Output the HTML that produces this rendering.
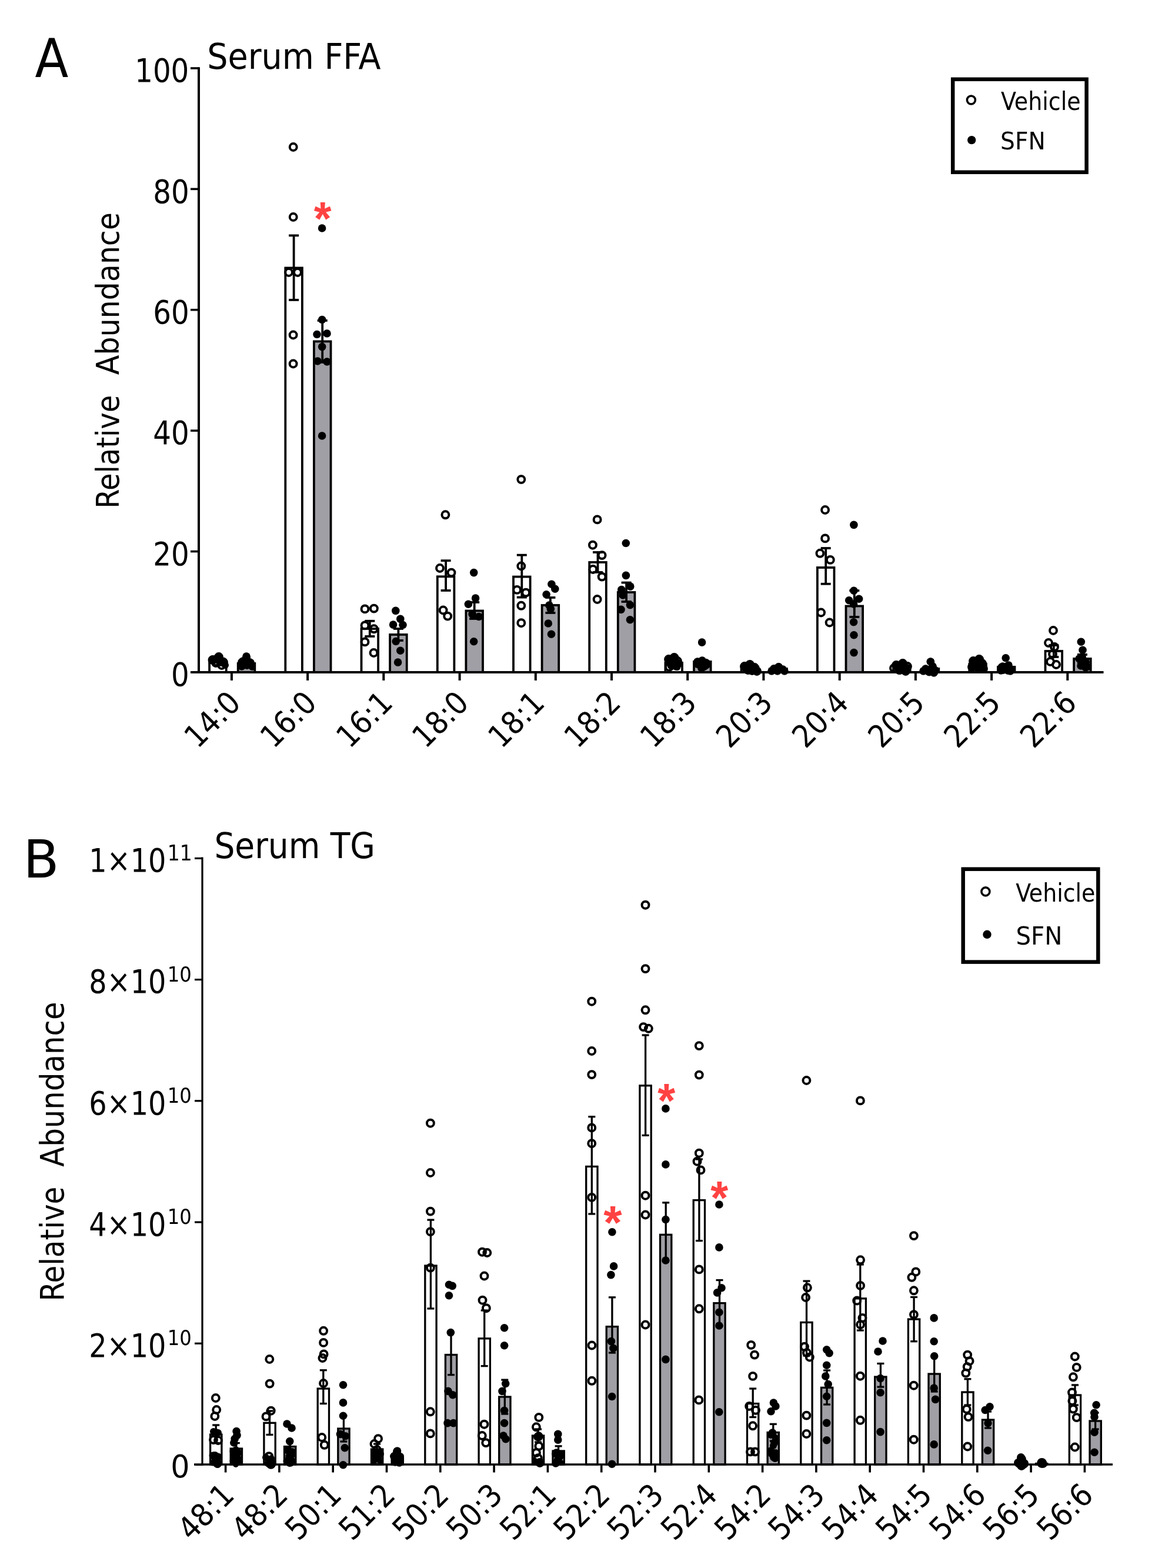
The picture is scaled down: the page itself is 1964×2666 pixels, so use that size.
<!DOCTYPE html>
<html><head><meta charset="utf-8"><title>Serum FFA and TG</title>
<style>html,body{margin:0;padding:0;background:#fff}svg{display:block}text{font-family:'DejaVu Sans Condensed', 'DejaVu Sans', sans-serif;white-space:pre}</style></head>
<body><svg xmlns="http://www.w3.org/2000/svg" width="1964" height="2666" viewBox="0 0 1964 2666">
<rect width="1964" height="2666" fill="#fff"/>
<rect x="356.1" y="1125.0" width="28.6" height="18.0" fill="#fff" stroke="#000" stroke-width="3.8"/>
<rect x="404.7" y="1128.0" width="28.6" height="15.0" fill="#a09fa5" stroke="#000" stroke-width="3.8"/>
<rect x="485.3" y="455.5" width="28.6" height="687.5" fill="#fff" stroke="#000" stroke-width="3.8"/>
<rect x="533.9" y="580.5" width="28.6" height="562.5" fill="#a09fa5" stroke="#000" stroke-width="3.8"/>
<rect x="614.5" y="1069.0" width="28.6" height="74.0" fill="#fff" stroke="#000" stroke-width="3.8"/>
<rect x="663.1" y="1079.0" width="28.6" height="64.0" fill="#a09fa5" stroke="#000" stroke-width="3.8"/>
<rect x="743.8" y="980.3" width="28.6" height="162.7" fill="#fff" stroke="#000" stroke-width="3.8"/>
<rect x="792.4" y="1038.5" width="28.6" height="104.5" fill="#a09fa5" stroke="#000" stroke-width="3.8"/>
<rect x="873.0" y="980.6" width="28.6" height="162.4" fill="#fff" stroke="#000" stroke-width="3.8"/>
<rect x="921.6" y="1029.0" width="28.6" height="114.0" fill="#a09fa5" stroke="#000" stroke-width="3.8"/>
<rect x="1002.2" y="956.0" width="28.6" height="187.0" fill="#fff" stroke="#000" stroke-width="3.8"/>
<rect x="1050.8" y="1007.0" width="28.6" height="136.0" fill="#a09fa5" stroke="#000" stroke-width="3.8"/>
<rect x="1131.4" y="1127.0" width="28.6" height="16.0" fill="#fff" stroke="#000" stroke-width="3.8"/>
<rect x="1180.0" y="1125.0" width="28.6" height="18.0" fill="#a09fa5" stroke="#000" stroke-width="3.8"/>
<rect x="1260.6" y="1134.0" width="28.6" height="9.0" fill="#fff" stroke="#000" stroke-width="3.8"/>
<rect x="1309.2" y="1137.0" width="28.6" height="6.0" fill="#a09fa5" stroke="#000" stroke-width="3.8"/>
<rect x="1389.9" y="965.0" width="28.6" height="178.0" fill="#fff" stroke="#000" stroke-width="3.8"/>
<rect x="1438.5" y="1030.5" width="28.6" height="112.5" fill="#a09fa5" stroke="#000" stroke-width="3.8"/>
<rect x="1519.1" y="1134.0" width="28.6" height="9.0" fill="#fff" stroke="#000" stroke-width="3.8"/>
<rect x="1567.7" y="1137.0" width="28.6" height="6.0" fill="#a09fa5" stroke="#000" stroke-width="3.8"/>
<rect x="1648.3" y="1129.0" width="28.6" height="14.0" fill="#fff" stroke="#000" stroke-width="3.8"/>
<rect x="1696.9" y="1134.0" width="28.6" height="9.0" fill="#a09fa5" stroke="#000" stroke-width="3.8"/>
<rect x="1777.5" y="1107.0" width="28.6" height="36.0" fill="#fff" stroke="#000" stroke-width="3.8"/>
<rect x="1826.1" y="1120.0" width="28.6" height="23.0" fill="#a09fa5" stroke="#000" stroke-width="3.8"/>
<line x1="370.4" y1="1119.0" x2="370.4" y2="1131.0" stroke="#000" stroke-width="3.8" stroke-linecap="butt"/>
<line x1="361.9" y1="1119.0" x2="378.9" y2="1119.0" stroke="#000" stroke-width="3.8" stroke-linecap="butt"/>
<line x1="361.9" y1="1131.0" x2="378.9" y2="1131.0" stroke="#000" stroke-width="3.8" stroke-linecap="butt"/>
<line x1="419.0" y1="1122.0" x2="419.0" y2="1134.0" stroke="#000" stroke-width="3.8" stroke-linecap="butt"/>
<line x1="410.5" y1="1122.0" x2="427.5" y2="1122.0" stroke="#000" stroke-width="3.8" stroke-linecap="butt"/>
<line x1="410.5" y1="1134.0" x2="427.5" y2="1134.0" stroke="#000" stroke-width="3.8" stroke-linecap="butt"/>
<line x1="499.6" y1="400.4" x2="499.6" y2="510.0" stroke="#000" stroke-width="3.8" stroke-linecap="butt"/>
<line x1="491.1" y1="400.4" x2="508.1" y2="400.4" stroke="#000" stroke-width="3.8" stroke-linecap="butt"/>
<line x1="491.1" y1="510.0" x2="508.1" y2="510.0" stroke="#000" stroke-width="3.8" stroke-linecap="butt"/>
<line x1="548.2" y1="545.0" x2="548.2" y2="616.0" stroke="#000" stroke-width="3.8" stroke-linecap="butt"/>
<line x1="539.7" y1="545.0" x2="556.7" y2="545.0" stroke="#000" stroke-width="3.8" stroke-linecap="butt"/>
<line x1="539.7" y1="616.0" x2="556.7" y2="616.0" stroke="#000" stroke-width="3.8" stroke-linecap="butt"/>
<line x1="628.8" y1="1055.8" x2="628.8" y2="1082.0" stroke="#000" stroke-width="3.8" stroke-linecap="butt"/>
<line x1="620.3" y1="1055.8" x2="637.3" y2="1055.8" stroke="#000" stroke-width="3.8" stroke-linecap="butt"/>
<line x1="620.3" y1="1082.0" x2="637.3" y2="1082.0" stroke="#000" stroke-width="3.8" stroke-linecap="butt"/>
<line x1="677.4" y1="1069.0" x2="677.4" y2="1089.0" stroke="#000" stroke-width="3.8" stroke-linecap="butt"/>
<line x1="668.9" y1="1069.0" x2="685.9" y2="1069.0" stroke="#000" stroke-width="3.8" stroke-linecap="butt"/>
<line x1="668.9" y1="1089.0" x2="685.9" y2="1089.0" stroke="#000" stroke-width="3.8" stroke-linecap="butt"/>
<line x1="758.1" y1="953.2" x2="758.1" y2="1004.0" stroke="#000" stroke-width="3.8" stroke-linecap="butt"/>
<line x1="749.6" y1="953.2" x2="766.6" y2="953.2" stroke="#000" stroke-width="3.8" stroke-linecap="butt"/>
<line x1="749.6" y1="1004.0" x2="766.6" y2="1004.0" stroke="#000" stroke-width="3.8" stroke-linecap="butt"/>
<line x1="806.7" y1="1024.0" x2="806.7" y2="1052.0" stroke="#000" stroke-width="3.8" stroke-linecap="butt"/>
<line x1="798.2" y1="1024.0" x2="815.2" y2="1024.0" stroke="#000" stroke-width="3.8" stroke-linecap="butt"/>
<line x1="798.2" y1="1052.0" x2="815.2" y2="1052.0" stroke="#000" stroke-width="3.8" stroke-linecap="butt"/>
<line x1="887.3" y1="943.7" x2="887.3" y2="1015.6" stroke="#000" stroke-width="3.8" stroke-linecap="butt"/>
<line x1="878.8" y1="943.7" x2="895.8" y2="943.7" stroke="#000" stroke-width="3.8" stroke-linecap="butt"/>
<line x1="878.8" y1="1015.6" x2="895.8" y2="1015.6" stroke="#000" stroke-width="3.8" stroke-linecap="butt"/>
<line x1="935.9" y1="1016.0" x2="935.9" y2="1042.0" stroke="#000" stroke-width="3.8" stroke-linecap="butt"/>
<line x1="927.4" y1="1016.0" x2="944.4" y2="1016.0" stroke="#000" stroke-width="3.8" stroke-linecap="butt"/>
<line x1="927.4" y1="1042.0" x2="944.4" y2="1042.0" stroke="#000" stroke-width="3.8" stroke-linecap="butt"/>
<line x1="1016.5" y1="939.0" x2="1016.5" y2="973.0" stroke="#000" stroke-width="3.8" stroke-linecap="butt"/>
<line x1="1008.0" y1="939.0" x2="1025.0" y2="939.0" stroke="#000" stroke-width="3.8" stroke-linecap="butt"/>
<line x1="1008.0" y1="973.0" x2="1025.0" y2="973.0" stroke="#000" stroke-width="3.8" stroke-linecap="butt"/>
<line x1="1065.1" y1="990.6" x2="1065.1" y2="1023.0" stroke="#000" stroke-width="3.8" stroke-linecap="butt"/>
<line x1="1056.6" y1="990.6" x2="1073.6" y2="990.6" stroke="#000" stroke-width="3.8" stroke-linecap="butt"/>
<line x1="1056.6" y1="1023.0" x2="1073.6" y2="1023.0" stroke="#000" stroke-width="3.8" stroke-linecap="butt"/>
<line x1="1145.7" y1="1121.0" x2="1145.7" y2="1133.0" stroke="#000" stroke-width="3.8" stroke-linecap="butt"/>
<line x1="1137.2" y1="1121.0" x2="1154.2" y2="1121.0" stroke="#000" stroke-width="3.8" stroke-linecap="butt"/>
<line x1="1137.2" y1="1133.0" x2="1154.2" y2="1133.0" stroke="#000" stroke-width="3.8" stroke-linecap="butt"/>
<line x1="1194.3" y1="1122.0" x2="1194.3" y2="1134.0" stroke="#000" stroke-width="3.8" stroke-linecap="butt"/>
<line x1="1185.8" y1="1122.0" x2="1202.8" y2="1122.0" stroke="#000" stroke-width="3.8" stroke-linecap="butt"/>
<line x1="1185.8" y1="1134.0" x2="1202.8" y2="1134.0" stroke="#000" stroke-width="3.8" stroke-linecap="butt"/>
<line x1="1274.9" y1="1131.0" x2="1274.9" y2="1137.0" stroke="#000" stroke-width="3.8" stroke-linecap="butt"/>
<line x1="1266.4" y1="1131.0" x2="1283.4" y2="1131.0" stroke="#000" stroke-width="3.8" stroke-linecap="butt"/>
<line x1="1266.4" y1="1137.0" x2="1283.4" y2="1137.0" stroke="#000" stroke-width="3.8" stroke-linecap="butt"/>
<line x1="1323.5" y1="1135.0" x2="1323.5" y2="1139.0" stroke="#000" stroke-width="3.8" stroke-linecap="butt"/>
<line x1="1315.0" y1="1135.0" x2="1332.0" y2="1135.0" stroke="#000" stroke-width="3.8" stroke-linecap="butt"/>
<line x1="1315.0" y1="1139.0" x2="1332.0" y2="1139.0" stroke="#000" stroke-width="3.8" stroke-linecap="butt"/>
<line x1="1404.2" y1="932.0" x2="1404.2" y2="992.8" stroke="#000" stroke-width="3.8" stroke-linecap="butt"/>
<line x1="1395.7" y1="932.0" x2="1412.7" y2="932.0" stroke="#000" stroke-width="3.8" stroke-linecap="butt"/>
<line x1="1395.7" y1="992.8" x2="1412.7" y2="992.8" stroke="#000" stroke-width="3.8" stroke-linecap="butt"/>
<line x1="1452.8" y1="1004.2" x2="1452.8" y2="1049.0" stroke="#000" stroke-width="3.8" stroke-linecap="butt"/>
<line x1="1444.3" y1="1004.2" x2="1461.3" y2="1004.2" stroke="#000" stroke-width="3.8" stroke-linecap="butt"/>
<line x1="1444.3" y1="1049.0" x2="1461.3" y2="1049.0" stroke="#000" stroke-width="3.8" stroke-linecap="butt"/>
<line x1="1533.4" y1="1131.0" x2="1533.4" y2="1137.0" stroke="#000" stroke-width="3.8" stroke-linecap="butt"/>
<line x1="1524.9" y1="1131.0" x2="1541.9" y2="1131.0" stroke="#000" stroke-width="3.8" stroke-linecap="butt"/>
<line x1="1524.9" y1="1137.0" x2="1541.9" y2="1137.0" stroke="#000" stroke-width="3.8" stroke-linecap="butt"/>
<line x1="1582.0" y1="1134.0" x2="1582.0" y2="1140.0" stroke="#000" stroke-width="3.8" stroke-linecap="butt"/>
<line x1="1573.5" y1="1134.0" x2="1590.5" y2="1134.0" stroke="#000" stroke-width="3.8" stroke-linecap="butt"/>
<line x1="1573.5" y1="1140.0" x2="1590.5" y2="1140.0" stroke="#000" stroke-width="3.8" stroke-linecap="butt"/>
<line x1="1662.6" y1="1126.0" x2="1662.6" y2="1132.0" stroke="#000" stroke-width="3.8" stroke-linecap="butt"/>
<line x1="1654.1" y1="1126.0" x2="1671.1" y2="1126.0" stroke="#000" stroke-width="3.8" stroke-linecap="butt"/>
<line x1="1654.1" y1="1132.0" x2="1671.1" y2="1132.0" stroke="#000" stroke-width="3.8" stroke-linecap="butt"/>
<line x1="1711.2" y1="1130.0" x2="1711.2" y2="1138.0" stroke="#000" stroke-width="3.8" stroke-linecap="butt"/>
<line x1="1702.7" y1="1130.0" x2="1719.7" y2="1130.0" stroke="#000" stroke-width="3.8" stroke-linecap="butt"/>
<line x1="1702.7" y1="1138.0" x2="1719.7" y2="1138.0" stroke="#000" stroke-width="3.8" stroke-linecap="butt"/>
<line x1="1791.8" y1="1097.0" x2="1791.8" y2="1117.0" stroke="#000" stroke-width="3.8" stroke-linecap="butt"/>
<line x1="1783.3" y1="1097.0" x2="1800.3" y2="1097.0" stroke="#000" stroke-width="3.8" stroke-linecap="butt"/>
<line x1="1783.3" y1="1117.0" x2="1800.3" y2="1117.0" stroke="#000" stroke-width="3.8" stroke-linecap="butt"/>
<line x1="1840.4" y1="1113.0" x2="1840.4" y2="1127.0" stroke="#000" stroke-width="3.8" stroke-linecap="butt"/>
<line x1="1831.9" y1="1113.0" x2="1848.9" y2="1113.0" stroke="#000" stroke-width="3.8" stroke-linecap="butt"/>
<line x1="1831.9" y1="1127.0" x2="1848.9" y2="1127.0" stroke="#000" stroke-width="3.8" stroke-linecap="butt"/>
<circle cx="361.0" cy="1122.0" r="7.5" fill="#000"/>
<circle cx="371.0" cy="1119.0" r="8" fill="#000"/>
<circle cx="379.0" cy="1125.0" r="7.5" fill="#000"/>
<circle cx="383.0" cy="1131.0" r="6" fill="#000"/>
<circle cx="362.0" cy="1122.0" r="5.95" fill="none" stroke="#000" stroke-width="4.0"/>
<circle cx="372.0" cy="1117.0" r="5.95" fill="none" stroke="#000" stroke-width="4.0"/>
<circle cx="380.0" cy="1126.0" r="5.95" fill="none" stroke="#000" stroke-width="4.0"/>
<circle cx="367.0" cy="1127.0" r="5.95" fill="none" stroke="#000" stroke-width="4.0"/>
<circle cx="377.0" cy="1131.0" r="5.95" fill="none" stroke="#000" stroke-width="4.0"/>
<circle cx="370.0" cy="1121.0" r="5.95" fill="none" stroke="#000" stroke-width="4.0"/>
<circle cx="419.0" cy="1118.0" r="7" fill="#000"/>
<circle cx="411.0" cy="1126.0" r="7" fill="#000"/>
<circle cx="426.0" cy="1127.0" r="7" fill="#000"/>
<circle cx="429.0" cy="1134.0" r="6" fill="#000"/>
<circle cx="420.0" cy="1132.0" r="6" fill="#000"/>
<circle cx="419.0" cy="1116.0" r="6.8" fill="#000"/>
<circle cx="413.0" cy="1124.0" r="6.8" fill="#000"/>
<circle cx="425.0" cy="1126.0" r="6.8" fill="#000"/>
<circle cx="419.0" cy="1130.0" r="6.8" fill="#000"/>
<circle cx="428.0" cy="1132.0" r="6.8" fill="#000"/>
<circle cx="411.0" cy="1133.0" r="6.8" fill="#000"/>
<circle cx="420.0" cy="1122.0" r="6.8" fill="#000"/>
<circle cx="498.7" cy="250.0" r="5.95" fill="none" stroke="#000" stroke-width="4.0"/>
<circle cx="498.7" cy="369.0" r="5.95" fill="none" stroke="#000" stroke-width="4.0"/>
<circle cx="491.0" cy="463.0" r="5.95" fill="none" stroke="#000" stroke-width="4.0"/>
<circle cx="506.0" cy="463.0" r="5.95" fill="none" stroke="#000" stroke-width="4.0"/>
<circle cx="498.6" cy="569.5" r="5.95" fill="none" stroke="#000" stroke-width="4.0"/>
<circle cx="498.6" cy="618.5" r="5.95" fill="none" stroke="#000" stroke-width="4.0"/>
<circle cx="547.6" cy="388.0" r="6.8" fill="#000"/>
<circle cx="547.7" cy="543.5" r="6.8" fill="#000"/>
<circle cx="539.0" cy="568.5" r="6.8" fill="#000"/>
<circle cx="556.0" cy="567.0" r="6.8" fill="#000"/>
<circle cx="547.7" cy="589.6" r="6.8" fill="#000"/>
<circle cx="540.0" cy="614.0" r="6.8" fill="#000"/>
<circle cx="556.0" cy="615.0" r="6.8" fill="#000"/>
<circle cx="547.6" cy="741.0" r="6.8" fill="#000"/>
<circle cx="620.5" cy="1035.4" r="5.95" fill="none" stroke="#000" stroke-width="4.0"/>
<circle cx="635.9" cy="1034.6" r="5.95" fill="none" stroke="#000" stroke-width="4.0"/>
<circle cx="620.5" cy="1063.4" r="5.95" fill="none" stroke="#000" stroke-width="4.0"/>
<circle cx="635.9" cy="1069.3" r="5.95" fill="none" stroke="#000" stroke-width="4.0"/>
<circle cx="620.5" cy="1091.4" r="5.95" fill="none" stroke="#000" stroke-width="4.0"/>
<circle cx="635.5" cy="1110.0" r="5.95" fill="none" stroke="#000" stroke-width="4.0"/>
<circle cx="672.8" cy="1038.4" r="6.8" fill="#000"/>
<circle cx="680.8" cy="1052.4" r="6.8" fill="#000"/>
<circle cx="668.6" cy="1062.1" r="6.8" fill="#000"/>
<circle cx="685.0" cy="1062.5" r="6.8" fill="#000"/>
<circle cx="673.2" cy="1090.5" r="6.8" fill="#000"/>
<circle cx="680.8" cy="1106.2" r="6.8" fill="#000"/>
<circle cx="676.6" cy="1126.1" r="6.8" fill="#000"/>
<circle cx="757.4" cy="875.3" r="5.95" fill="none" stroke="#000" stroke-width="4.0"/>
<circle cx="748.0" cy="966.0" r="5.95" fill="none" stroke="#000" stroke-width="4.0"/>
<circle cx="767.5" cy="973.6" r="5.95" fill="none" stroke="#000" stroke-width="4.0"/>
<circle cx="753.6" cy="1037.5" r="5.95" fill="none" stroke="#000" stroke-width="4.0"/>
<circle cx="761.2" cy="1047.6" r="5.95" fill="none" stroke="#000" stroke-width="4.0"/>
<circle cx="805.7" cy="973.6" r="6.8" fill="#000"/>
<circle cx="808.6" cy="1017.1" r="6.8" fill="#000"/>
<circle cx="796.4" cy="1027.3" r="6.8" fill="#000"/>
<circle cx="803.1" cy="1044.2" r="6.8" fill="#000"/>
<circle cx="814.2" cy="1048.5" r="6.8" fill="#000"/>
<circle cx="805.7" cy="1090.8" r="6.8" fill="#000"/>
<circle cx="886.3" cy="815.1" r="5.95" fill="none" stroke="#000" stroke-width="4.0"/>
<circle cx="886.3" cy="962.5" r="5.95" fill="none" stroke="#000" stroke-width="4.0"/>
<circle cx="879.1" cy="1002.9" r="5.95" fill="none" stroke="#000" stroke-width="4.0"/>
<circle cx="894.2" cy="1007.6" r="5.95" fill="none" stroke="#000" stroke-width="4.0"/>
<circle cx="886.3" cy="1029.8" r="5.95" fill="none" stroke="#000" stroke-width="4.0"/>
<circle cx="886.3" cy="1059.2" r="5.95" fill="none" stroke="#000" stroke-width="4.0"/>
<circle cx="937.9" cy="993.3" r="6.8" fill="#000"/>
<circle cx="943.8" cy="1001.3" r="6.8" fill="#000"/>
<circle cx="929.1" cy="1010.8" r="6.8" fill="#000"/>
<circle cx="933.9" cy="1029.0" r="6.8" fill="#000"/>
<circle cx="936.3" cy="1035.4" r="6.8" fill="#000"/>
<circle cx="932.3" cy="1060.0" r="6.8" fill="#000"/>
<circle cx="937.5" cy="1078.3" r="6.8" fill="#000"/>
<circle cx="1015.6" cy="883.4" r="5.95" fill="none" stroke="#000" stroke-width="4.0"/>
<circle cx="1007.9" cy="926.7" r="5.95" fill="none" stroke="#000" stroke-width="4.0"/>
<circle cx="1023.6" cy="944.1" r="5.95" fill="none" stroke="#000" stroke-width="4.0"/>
<circle cx="1008.3" cy="968.0" r="5.95" fill="none" stroke="#000" stroke-width="4.0"/>
<circle cx="1023.6" cy="980.6" r="5.95" fill="none" stroke="#000" stroke-width="4.0"/>
<circle cx="1015.6" cy="1019.0" r="5.95" fill="none" stroke="#000" stroke-width="4.0"/>
<circle cx="1064.3" cy="923.5" r="6.8" fill="#000"/>
<circle cx="1064.4" cy="978.4" r="6.8" fill="#000"/>
<circle cx="1071.8" cy="997.1" r="6.8" fill="#000"/>
<circle cx="1056.8" cy="1002.6" r="6.8" fill="#000"/>
<circle cx="1059.2" cy="1012.0" r="6.8" fill="#000"/>
<circle cx="1071.4" cy="1028.6" r="6.8" fill="#000"/>
<circle cx="1056.0" cy="1036.4" r="6.8" fill="#000"/>
<circle cx="1071.4" cy="1053.7" r="6.8" fill="#000"/>
<circle cx="1138.0" cy="1122.0" r="7" fill="#000"/>
<circle cx="1147.0" cy="1118.0" r="7" fill="#000"/>
<circle cx="1154.0" cy="1128.0" r="7" fill="#000"/>
<circle cx="1142.0" cy="1132.0" r="7" fill="#000"/>
<circle cx="1152.0" cy="1135.0" r="5" fill="#000"/>
<circle cx="1146.5" cy="1118.0" r="5.95" fill="none" stroke="#000" stroke-width="4.0"/>
<circle cx="1137.0" cy="1121.0" r="5.95" fill="none" stroke="#000" stroke-width="4.0"/>
<circle cx="1152.0" cy="1124.0" r="5.95" fill="none" stroke="#000" stroke-width="4.0"/>
<circle cx="1142.0" cy="1130.0" r="5.95" fill="none" stroke="#000" stroke-width="4.0"/>
<circle cx="1150.0" cy="1132.0" r="5.95" fill="none" stroke="#000" stroke-width="4.0"/>
<circle cx="1138.0" cy="1134.0" r="5.95" fill="none" stroke="#000" stroke-width="4.0"/>
<circle cx="1194.0" cy="1126.0" r="8" fill="#000"/>
<circle cx="1186.0" cy="1130.0" r="6" fill="#000"/>
<circle cx="1202.0" cy="1131.0" r="6" fill="#000"/>
<circle cx="1196.0" cy="1136.0" r="5" fill="#000"/>
<circle cx="1193.6" cy="1092.1" r="6.8" fill="#000"/>
<circle cx="1186.0" cy="1125.0" r="6.8" fill="#000"/>
<circle cx="1194.0" cy="1123.0" r="6.8" fill="#000"/>
<circle cx="1201.0" cy="1127.0" r="6.8" fill="#000"/>
<circle cx="1190.0" cy="1131.0" r="6.8" fill="#000"/>
<circle cx="1198.0" cy="1133.0" r="6.8" fill="#000"/>
<circle cx="1193.0" cy="1136.0" r="6.8" fill="#000"/>
<circle cx="1266.0" cy="1133.0" r="7" fill="#000"/>
<circle cx="1276.0" cy="1130.0" r="7" fill="#000"/>
<circle cx="1284.0" cy="1136.0" r="7" fill="#000"/>
<circle cx="1272.0" cy="1140.0" r="7" fill="#000"/>
<circle cx="1282.0" cy="1141.0" r="6" fill="#000"/>
<circle cx="1266.0" cy="1133.0" r="5.95" fill="none" stroke="#000" stroke-width="4.0"/>
<circle cx="1275.0" cy="1130.0" r="5.95" fill="none" stroke="#000" stroke-width="4.0"/>
<circle cx="1283.0" cy="1135.0" r="5.95" fill="none" stroke="#000" stroke-width="4.0"/>
<circle cx="1270.0" cy="1138.0" r="5.95" fill="none" stroke="#000" stroke-width="4.0"/>
<circle cx="1279.0" cy="1140.0" r="5.95" fill="none" stroke="#000" stroke-width="4.0"/>
<circle cx="1287.0" cy="1141.0" r="5.95" fill="none" stroke="#000" stroke-width="4.0"/>
<circle cx="1316.0" cy="1137.0" r="7" fill="#000"/>
<circle cx="1324.0" cy="1134.0" r="7" fill="#000"/>
<circle cx="1332.0" cy="1139.0" r="6" fill="#000"/>
<circle cx="1322.0" cy="1141.0" r="6" fill="#000"/>
<circle cx="1324.0" cy="1134.0" r="6.8" fill="#000"/>
<circle cx="1316.0" cy="1138.0" r="6.8" fill="#000"/>
<circle cx="1331.0" cy="1138.0" r="6.8" fill="#000"/>
<circle cx="1322.0" cy="1141.0" r="6.8" fill="#000"/>
<circle cx="1312.0" cy="1141.0" r="6.8" fill="#000"/>
<circle cx="1334.0" cy="1141.0" r="6.8" fill="#000"/>
<circle cx="1403.1" cy="867.0" r="5.95" fill="none" stroke="#000" stroke-width="4.0"/>
<circle cx="1403.1" cy="915.4" r="5.95" fill="none" stroke="#000" stroke-width="4.0"/>
<circle cx="1394.4" cy="940.8" r="5.95" fill="none" stroke="#000" stroke-width="4.0"/>
<circle cx="1411.8" cy="951.9" r="5.95" fill="none" stroke="#000" stroke-width="4.0"/>
<circle cx="1396.1" cy="1041.5" r="5.95" fill="none" stroke="#000" stroke-width="4.0"/>
<circle cx="1410.6" cy="1058.5" r="5.95" fill="none" stroke="#000" stroke-width="4.0"/>
<circle cx="1451.9" cy="892.4" r="6.8" fill="#000"/>
<circle cx="1451.9" cy="1004.2" r="6.8" fill="#000"/>
<circle cx="1443.7" cy="1020.7" r="6.8" fill="#000"/>
<circle cx="1460.6" cy="1018.3" r="6.8" fill="#000"/>
<circle cx="1451.6" cy="1027.0" r="6.8" fill="#000"/>
<circle cx="1451.6" cy="1057.7" r="6.8" fill="#000"/>
<circle cx="1452.0" cy="1079.7" r="6.8" fill="#000"/>
<circle cx="1452.0" cy="1109.6" r="6.8" fill="#000"/>
<circle cx="1525.0" cy="1132.0" r="7" fill="#000"/>
<circle cx="1535.0" cy="1129.0" r="7" fill="#000"/>
<circle cx="1543.0" cy="1135.0" r="6" fill="#000"/>
<circle cx="1530.0" cy="1140.0" r="7" fill="#000"/>
<circle cx="1541.0" cy="1141.0" r="6" fill="#000"/>
<circle cx="1524.0" cy="1131.0" r="5.95" fill="none" stroke="#000" stroke-width="4.0"/>
<circle cx="1535.0" cy="1128.0" r="5.95" fill="none" stroke="#000" stroke-width="4.0"/>
<circle cx="1543.0" cy="1133.0" r="5.95" fill="none" stroke="#000" stroke-width="4.0"/>
<circle cx="1529.0" cy="1139.0" r="5.95" fill="none" stroke="#000" stroke-width="4.0"/>
<circle cx="1540.0" cy="1141.0" r="5.95" fill="none" stroke="#000" stroke-width="4.0"/>
<circle cx="1520.0" cy="1136.0" r="5.95" fill="none" stroke="#000" stroke-width="4.0"/>
<circle cx="1582.0" cy="1125.0" r="6.5" fill="#000"/>
<circle cx="1586.0" cy="1133.0" r="6.5" fill="#000"/>
<circle cx="1574.0" cy="1138.0" r="6.5" fill="#000"/>
<circle cx="1591.0" cy="1140.0" r="6" fill="#000"/>
<circle cx="1580.0" cy="1143.0" r="6.5" fill="#000"/>
<circle cx="1589.0" cy="1145.0" r="5" fill="#000"/>
<circle cx="1582.5" cy="1125.0" r="6.8" fill="#000"/>
<circle cx="1586.0" cy="1133.0" r="6.8" fill="#000"/>
<circle cx="1574.0" cy="1137.0" r="6.8" fill="#000"/>
<circle cx="1591.0" cy="1140.0" r="6.8" fill="#000"/>
<circle cx="1579.0" cy="1142.0" r="6.8" fill="#000"/>
<circle cx="1588.0" cy="1144.0" r="6.8" fill="#000"/>
<circle cx="1570.0" cy="1141.0" r="6.8" fill="#000"/>
<circle cx="1655.0" cy="1124.0" r="7" fill="#000"/>
<circle cx="1666.0" cy="1121.0" r="7" fill="#000"/>
<circle cx="1672.0" cy="1129.0" r="6" fill="#000"/>
<circle cx="1655.0" cy="1134.0" r="7" fill="#000"/>
<circle cx="1666.0" cy="1135.0" r="7" fill="#000"/>
<circle cx="1673.0" cy="1138.0" r="5" fill="#000"/>
<circle cx="1655.0" cy="1124.0" r="5.95" fill="none" stroke="#000" stroke-width="4.0"/>
<circle cx="1665.0" cy="1121.0" r="5.95" fill="none" stroke="#000" stroke-width="4.0"/>
<circle cx="1670.0" cy="1128.0" r="5.95" fill="none" stroke="#000" stroke-width="4.0"/>
<circle cx="1653.0" cy="1134.0" r="5.95" fill="none" stroke="#000" stroke-width="4.0"/>
<circle cx="1664.0" cy="1136.0" r="5.95" fill="none" stroke="#000" stroke-width="4.0"/>
<circle cx="1672.0" cy="1137.0" r="5.95" fill="none" stroke="#000" stroke-width="4.0"/>
<circle cx="1703.0" cy="1134.0" r="6.5" fill="#000"/>
<circle cx="1712.0" cy="1133.0" r="6.5" fill="#000"/>
<circle cx="1718.0" cy="1137.0" r="6" fill="#000"/>
<circle cx="1706.0" cy="1140.0" r="6" fill="#000"/>
<circle cx="1714.0" cy="1141.0" r="6" fill="#000"/>
<circle cx="1710.2" cy="1118.8" r="6.8" fill="#000"/>
<circle cx="1705.0" cy="1133.0" r="6.8" fill="#000"/>
<circle cx="1715.0" cy="1131.0" r="6.8" fill="#000"/>
<circle cx="1710.0" cy="1137.0" r="6.8" fill="#000"/>
<circle cx="1702.0" cy="1140.0" r="6.8" fill="#000"/>
<circle cx="1718.0" cy="1141.0" r="6.8" fill="#000"/>
<circle cx="1791.0" cy="1072.0" r="5.95" fill="none" stroke="#000" stroke-width="4.0"/>
<circle cx="1783.0" cy="1093.0" r="5.95" fill="none" stroke="#000" stroke-width="4.0"/>
<circle cx="1793.0" cy="1100.0" r="5.95" fill="none" stroke="#000" stroke-width="4.0"/>
<circle cx="1786.0" cy="1125.0" r="5.95" fill="none" stroke="#000" stroke-width="4.0"/>
<circle cx="1796.0" cy="1130.0" r="5.95" fill="none" stroke="#000" stroke-width="4.0"/>
<circle cx="1790.0" cy="1112.0" r="5.95" fill="none" stroke="#000" stroke-width="4.0"/>
<circle cx="1840.0" cy="1117.0" r="7" fill="#000"/>
<circle cx="1846.0" cy="1126.0" r="7" fill="#000"/>
<circle cx="1850.0" cy="1134.0" r="6" fill="#000"/>
<circle cx="1838.0" cy="1122.0" r="6" fill="#000"/>
<circle cx="1838.3" cy="1091.3" r="6.8" fill="#000"/>
<circle cx="1841.0" cy="1105.3" r="6.8" fill="#000"/>
<circle cx="1835.0" cy="1120.0" r="6.8" fill="#000"/>
<circle cx="1845.0" cy="1125.0" r="6.8" fill="#000"/>
<circle cx="1838.0" cy="1132.0" r="6.8" fill="#000"/>
<circle cx="1846.0" cy="1135.0" r="6.8" fill="#000"/>
<line x1="338.0" y1="114.2" x2="338.0" y2="1145.0" stroke="#000" stroke-width="4" stroke-linecap="butt"/>
<line x1="324.0" y1="116.0" x2="338.0" y2="116.0" stroke="#000" stroke-width="3.6" stroke-linecap="butt"/>
<line x1="324.0" y1="321.4" x2="338.0" y2="321.4" stroke="#000" stroke-width="3.6" stroke-linecap="butt"/>
<line x1="324.0" y1="526.8" x2="338.0" y2="526.8" stroke="#000" stroke-width="3.6" stroke-linecap="butt"/>
<line x1="324.0" y1="732.2" x2="338.0" y2="732.2" stroke="#000" stroke-width="3.6" stroke-linecap="butt"/>
<line x1="324.0" y1="937.6" x2="338.0" y2="937.6" stroke="#000" stroke-width="3.6" stroke-linecap="butt"/>
<line x1="324.0" y1="1143.0" x2="338.0" y2="1143.0" stroke="#000" stroke-width="3.6" stroke-linecap="butt"/>
<line x1="324.0" y1="1143.0" x2="1876.5" y2="1143.0" stroke="#000" stroke-width="4" stroke-linecap="butt"/>
<line x1="393.9" y1="1143.0" x2="393.9" y2="1157.0" stroke="#000" stroke-width="4" stroke-linecap="butt"/>
<line x1="523.1" y1="1143.0" x2="523.1" y2="1157.0" stroke="#000" stroke-width="4" stroke-linecap="butt"/>
<line x1="652.3" y1="1143.0" x2="652.3" y2="1157.0" stroke="#000" stroke-width="4" stroke-linecap="butt"/>
<line x1="781.6" y1="1143.0" x2="781.6" y2="1157.0" stroke="#000" stroke-width="4" stroke-linecap="butt"/>
<line x1="910.8" y1="1143.0" x2="910.8" y2="1157.0" stroke="#000" stroke-width="4" stroke-linecap="butt"/>
<line x1="1040.0" y1="1143.0" x2="1040.0" y2="1157.0" stroke="#000" stroke-width="4" stroke-linecap="butt"/>
<line x1="1169.2" y1="1143.0" x2="1169.2" y2="1157.0" stroke="#000" stroke-width="4" stroke-linecap="butt"/>
<line x1="1298.4" y1="1143.0" x2="1298.4" y2="1157.0" stroke="#000" stroke-width="4" stroke-linecap="butt"/>
<line x1="1427.7" y1="1143.0" x2="1427.7" y2="1157.0" stroke="#000" stroke-width="4" stroke-linecap="butt"/>
<line x1="1556.9" y1="1143.0" x2="1556.9" y2="1157.0" stroke="#000" stroke-width="4" stroke-linecap="butt"/>
<line x1="1686.1" y1="1143.0" x2="1686.1" y2="1157.0" stroke="#000" stroke-width="4" stroke-linecap="butt"/>
<line x1="1815.3" y1="1143.0" x2="1815.3" y2="1157.0" stroke="#000" stroke-width="4" stroke-linecap="butt"/>
<text x="229.2" y="139.1" font-size="55.00" textLength="92.1" lengthAdjust="spacingAndGlyphs" fill="#000" >100</text>
<text x="260.3" y="344.5" font-size="55.00" textLength="61.4" lengthAdjust="spacingAndGlyphs" fill="#000" >80</text>
<text x="260.3" y="550.0" font-size="55.00" textLength="61.4" lengthAdjust="spacingAndGlyphs" fill="#000" >60</text>
<text x="260.3" y="755.4" font-size="55.00" textLength="61.4" lengthAdjust="spacingAndGlyphs" fill="#000" >40</text>
<text x="260.3" y="960.8" font-size="55.00" textLength="61.4" lengthAdjust="spacingAndGlyphs" fill="#000" >20</text>
<text x="290.9" y="1166.2" font-size="55.00" textLength="30.7" lengthAdjust="spacingAndGlyphs" fill="#000" >0</text>
<text transform="translate(412.0,1198.2) rotate(-45)" x="0" y="0" text-anchor="end" font-size="53.25" textLength="107.6" lengthAdjust="spacingAndGlyphs">14:0</text>
<text transform="translate(541.3,1198.2) rotate(-45)" x="0" y="0" text-anchor="end" font-size="53.25" textLength="107.6" lengthAdjust="spacingAndGlyphs">16:0</text>
<text transform="translate(670.5,1198.2) rotate(-45)" x="0" y="0" text-anchor="end" font-size="53.25" textLength="107.6" lengthAdjust="spacingAndGlyphs">16:1</text>
<text transform="translate(799.7,1198.2) rotate(-45)" x="0" y="0" text-anchor="end" font-size="53.25" textLength="107.6" lengthAdjust="spacingAndGlyphs">18:0</text>
<text transform="translate(928.9,1198.2) rotate(-45)" x="0" y="0" text-anchor="end" font-size="53.25" textLength="107.6" lengthAdjust="spacingAndGlyphs">18:1</text>
<text transform="translate(1058.2,1198.2) rotate(-45)" x="0" y="0" text-anchor="end" font-size="53.25" textLength="107.6" lengthAdjust="spacingAndGlyphs">18:2</text>
<text transform="translate(1187.4,1198.2) rotate(-45)" x="0" y="0" text-anchor="end" font-size="53.25" textLength="107.6" lengthAdjust="spacingAndGlyphs">18:3</text>
<text transform="translate(1316.6,1198.2) rotate(-45)" x="0" y="0" text-anchor="end" font-size="53.25" textLength="107.6" lengthAdjust="spacingAndGlyphs">20:3</text>
<text transform="translate(1445.8,1198.2) rotate(-45)" x="0" y="0" text-anchor="end" font-size="53.25" textLength="107.6" lengthAdjust="spacingAndGlyphs">20:4</text>
<text transform="translate(1575.0,1198.2) rotate(-45)" x="0" y="0" text-anchor="end" font-size="53.25" textLength="107.6" lengthAdjust="spacingAndGlyphs">20:5</text>
<text transform="translate(1704.2,1198.2) rotate(-45)" x="0" y="0" text-anchor="end" font-size="53.25" textLength="107.6" lengthAdjust="spacingAndGlyphs">22:5</text>
<text transform="translate(1833.5,1198.2) rotate(-45)" x="0" y="0" text-anchor="end" font-size="53.25" textLength="107.6" lengthAdjust="spacingAndGlyphs">22:6</text>
<text x="352.3" y="117.0" font-size="60.92" textLength="295.3" lengthAdjust="spacingAndGlyphs" fill="#000" >Serum FFA</text>
<text x="59.4" y="131.1" font-size="90.00" textLength="56.8" lengthAdjust="spacingAndGlyphs" fill="#000" >A</text>
<text x="-864.8" y="201.8" font-size="53.38" textLength="192.9" lengthAdjust="spacingAndGlyphs" fill="#000" transform="rotate(-90)">Relative</text>
<text x="-637.3" y="201.8" font-size="53.38" textLength="276.3" lengthAdjust="spacingAndGlyphs" fill="#000" transform="rotate(-90)">Abundance</text>
<rect x="1620.2" y="134.8" width="227.4" height="158.0" fill="#fff" stroke="#000" stroke-width="6.5"/>
<circle cx="1651.4" cy="170" r="7.0" fill="none" stroke="#000" stroke-width="3.6"/>
<circle cx="1652.2" cy="238.1" r="7.2" fill="#000"/>
<text x="1702.1" y="186.6" font-size="41.95" textLength="135.6" lengthAdjust="spacingAndGlyphs" fill="#000" >Vehicle</text>
<text x="1701.1" y="254.3" font-size="41.18" textLength="76.6" lengthAdjust="spacingAndGlyphs" fill="#000" >SFN</text>
<text x="533.8" y="399.0" font-size="79.19" textLength="29.8" lengthAdjust="spacingAndGlyphs" fill="#ff4242" style="font-family:Liberation Sans;font-weight:700">*</text>
<rect x="357.6" y="2439.0" width="19.3" height="51.0" fill="#fff" stroke="#000" stroke-width="3.3"/>
<rect x="392.2" y="2463.0" width="19.3" height="27.0" fill="#a09fa5" stroke="#000" stroke-width="3.3"/>
<rect x="448.9" y="2419.3" width="19.3" height="70.7" fill="#fff" stroke="#000" stroke-width="3.3"/>
<rect x="483.5" y="2459.5" width="19.3" height="30.5" fill="#a09fa5" stroke="#000" stroke-width="3.3"/>
<rect x="540.2" y="2361.0" width="19.3" height="129.0" fill="#fff" stroke="#000" stroke-width="3.3"/>
<rect x="574.8" y="2429.0" width="19.3" height="61.0" fill="#a09fa5" stroke="#000" stroke-width="3.3"/>
<rect x="631.5" y="2464.0" width="19.3" height="26.0" fill="#fff" stroke="#000" stroke-width="3.3"/>
<rect x="666.1" y="2479.0" width="19.3" height="11.0" fill="#a09fa5" stroke="#000" stroke-width="3.3"/>
<rect x="722.8" y="2152.0" width="19.3" height="338.0" fill="#fff" stroke="#000" stroke-width="3.3"/>
<rect x="757.4" y="2303.5" width="19.3" height="186.5" fill="#a09fa5" stroke="#000" stroke-width="3.3"/>
<rect x="814.1" y="2275.8" width="19.3" height="214.2" fill="#fff" stroke="#000" stroke-width="3.3"/>
<rect x="848.7" y="2375.0" width="19.3" height="115.0" fill="#a09fa5" stroke="#000" stroke-width="3.3"/>
<rect x="905.4" y="2441.0" width="19.3" height="49.0" fill="#fff" stroke="#000" stroke-width="3.3"/>
<rect x="940.0" y="2467.0" width="19.3" height="23.0" fill="#a09fa5" stroke="#000" stroke-width="3.3"/>
<rect x="996.7" y="1983.4" width="19.3" height="506.6" fill="#fff" stroke="#000" stroke-width="3.3"/>
<rect x="1031.2" y="2255.6" width="19.3" height="234.4" fill="#a09fa5" stroke="#000" stroke-width="3.3"/>
<rect x="1087.9" y="1845.8" width="19.3" height="644.2" fill="#fff" stroke="#000" stroke-width="3.3"/>
<rect x="1122.5" y="2099.3" width="19.3" height="390.7" fill="#a09fa5" stroke="#000" stroke-width="3.3"/>
<rect x="1179.2" y="2040.6" width="19.3" height="449.4" fill="#fff" stroke="#000" stroke-width="3.3"/>
<rect x="1213.8" y="2215.6" width="19.3" height="274.4" fill="#a09fa5" stroke="#000" stroke-width="3.3"/>
<rect x="1270.5" y="2386.5" width="19.3" height="103.5" fill="#fff" stroke="#000" stroke-width="3.3"/>
<rect x="1305.1" y="2435.5" width="19.3" height="54.5" fill="#a09fa5" stroke="#000" stroke-width="3.3"/>
<rect x="1361.8" y="2248.4" width="19.3" height="241.6" fill="#fff" stroke="#000" stroke-width="3.3"/>
<rect x="1396.5" y="2359.3" width="19.3" height="130.7" fill="#a09fa5" stroke="#000" stroke-width="3.3"/>
<rect x="1453.1" y="2207.8" width="19.3" height="282.2" fill="#fff" stroke="#000" stroke-width="3.3"/>
<rect x="1487.7" y="2341.0" width="19.3" height="149.0" fill="#a09fa5" stroke="#000" stroke-width="3.3"/>
<rect x="1544.4" y="2243.0" width="19.3" height="247.0" fill="#fff" stroke="#000" stroke-width="3.3"/>
<rect x="1579.0" y="2336.0" width="19.3" height="154.0" fill="#a09fa5" stroke="#000" stroke-width="3.3"/>
<rect x="1635.8" y="2367.0" width="19.3" height="123.0" fill="#fff" stroke="#000" stroke-width="3.3"/>
<rect x="1670.4" y="2414.0" width="19.3" height="76.0" fill="#a09fa5" stroke="#000" stroke-width="3.3"/>
<rect x="1727.0" y="2487.0" width="19.3" height="3.0" fill="#fff" stroke="#000" stroke-width="3.3"/>
<rect x="1761.6" y="2488.5" width="19.3" height="1.5" fill="#a09fa5" stroke="#000" stroke-width="3.3"/>
<rect x="1818.3" y="2372.0" width="19.3" height="118.0" fill="#fff" stroke="#000" stroke-width="3.3"/>
<rect x="1853.0" y="2416.0" width="19.3" height="74.0" fill="#a09fa5" stroke="#000" stroke-width="3.3"/>
<line x1="367.2" y1="2423.0" x2="367.2" y2="2453.5" stroke="#000" stroke-width="3.3" stroke-linecap="butt"/>
<line x1="361.2" y1="2423.0" x2="373.2" y2="2423.0" stroke="#000" stroke-width="3.3" stroke-linecap="butt"/>
<line x1="361.2" y1="2453.5" x2="373.2" y2="2453.5" stroke="#000" stroke-width="3.3" stroke-linecap="butt"/>
<line x1="401.8" y1="2453.5" x2="401.8" y2="2472.0" stroke="#000" stroke-width="3.3" stroke-linecap="butt"/>
<line x1="395.8" y1="2453.5" x2="407.8" y2="2453.5" stroke="#000" stroke-width="3.3" stroke-linecap="butt"/>
<line x1="395.8" y1="2472.0" x2="407.8" y2="2472.0" stroke="#000" stroke-width="3.3" stroke-linecap="butt"/>
<line x1="458.5" y1="2399.0" x2="458.5" y2="2439.4" stroke="#000" stroke-width="3.3" stroke-linecap="butt"/>
<line x1="452.5" y1="2399.0" x2="464.5" y2="2399.0" stroke="#000" stroke-width="3.3" stroke-linecap="butt"/>
<line x1="452.5" y1="2439.4" x2="464.5" y2="2439.4" stroke="#000" stroke-width="3.3" stroke-linecap="butt"/>
<line x1="493.1" y1="2450.0" x2="493.1" y2="2469.0" stroke="#000" stroke-width="3.3" stroke-linecap="butt"/>
<line x1="487.1" y1="2450.0" x2="499.1" y2="2450.0" stroke="#000" stroke-width="3.3" stroke-linecap="butt"/>
<line x1="487.1" y1="2469.0" x2="499.1" y2="2469.0" stroke="#000" stroke-width="3.3" stroke-linecap="butt"/>
<line x1="549.8" y1="2329.7" x2="549.8" y2="2386.5" stroke="#000" stroke-width="3.3" stroke-linecap="butt"/>
<line x1="543.8" y1="2329.7" x2="555.8" y2="2329.7" stroke="#000" stroke-width="3.3" stroke-linecap="butt"/>
<line x1="543.8" y1="2386.5" x2="555.8" y2="2386.5" stroke="#000" stroke-width="3.3" stroke-linecap="butt"/>
<line x1="584.4" y1="2407.0" x2="584.4" y2="2451.0" stroke="#000" stroke-width="3.3" stroke-linecap="butt"/>
<line x1="578.4" y1="2407.0" x2="590.4" y2="2407.0" stroke="#000" stroke-width="3.3" stroke-linecap="butt"/>
<line x1="578.4" y1="2451.0" x2="590.4" y2="2451.0" stroke="#000" stroke-width="3.3" stroke-linecap="butt"/>
<line x1="641.1" y1="2455.0" x2="641.1" y2="2473.0" stroke="#000" stroke-width="3.3" stroke-linecap="butt"/>
<line x1="635.1" y1="2455.0" x2="647.1" y2="2455.0" stroke="#000" stroke-width="3.3" stroke-linecap="butt"/>
<line x1="635.1" y1="2473.0" x2="647.1" y2="2473.0" stroke="#000" stroke-width="3.3" stroke-linecap="butt"/>
<line x1="675.7" y1="2474.0" x2="675.7" y2="2484.0" stroke="#000" stroke-width="3.3" stroke-linecap="butt"/>
<line x1="669.7" y1="2474.0" x2="681.7" y2="2474.0" stroke="#000" stroke-width="3.3" stroke-linecap="butt"/>
<line x1="669.7" y1="2484.0" x2="681.7" y2="2484.0" stroke="#000" stroke-width="3.3" stroke-linecap="butt"/>
<line x1="732.4" y1="2074.1" x2="732.4" y2="2224.9" stroke="#000" stroke-width="3.3" stroke-linecap="butt"/>
<line x1="726.4" y1="2074.1" x2="738.4" y2="2074.1" stroke="#000" stroke-width="3.3" stroke-linecap="butt"/>
<line x1="726.4" y1="2224.9" x2="738.4" y2="2224.9" stroke="#000" stroke-width="3.3" stroke-linecap="butt"/>
<line x1="767.0" y1="2265.6" x2="767.0" y2="2337.6" stroke="#000" stroke-width="3.3" stroke-linecap="butt"/>
<line x1="761.0" y1="2265.6" x2="773.0" y2="2265.6" stroke="#000" stroke-width="3.3" stroke-linecap="butt"/>
<line x1="761.0" y1="2337.6" x2="773.0" y2="2337.6" stroke="#000" stroke-width="3.3" stroke-linecap="butt"/>
<line x1="823.7" y1="2228.0" x2="823.7" y2="2322.6" stroke="#000" stroke-width="3.3" stroke-linecap="butt"/>
<line x1="817.7" y1="2228.0" x2="829.7" y2="2228.0" stroke="#000" stroke-width="3.3" stroke-linecap="butt"/>
<line x1="817.7" y1="2322.6" x2="829.7" y2="2322.6" stroke="#000" stroke-width="3.3" stroke-linecap="butt"/>
<line x1="858.3" y1="2346.1" x2="858.3" y2="2404.0" stroke="#000" stroke-width="3.3" stroke-linecap="butt"/>
<line x1="852.3" y1="2346.1" x2="864.3" y2="2346.1" stroke="#000" stroke-width="3.3" stroke-linecap="butt"/>
<line x1="852.3" y1="2404.0" x2="864.3" y2="2404.0" stroke="#000" stroke-width="3.3" stroke-linecap="butt"/>
<line x1="915.0" y1="2430.0" x2="915.0" y2="2452.0" stroke="#000" stroke-width="3.3" stroke-linecap="butt"/>
<line x1="909.0" y1="2430.0" x2="921.0" y2="2430.0" stroke="#000" stroke-width="3.3" stroke-linecap="butt"/>
<line x1="909.0" y1="2452.0" x2="921.0" y2="2452.0" stroke="#000" stroke-width="3.3" stroke-linecap="butt"/>
<line x1="949.6" y1="2458.8" x2="949.6" y2="2475.0" stroke="#000" stroke-width="3.3" stroke-linecap="butt"/>
<line x1="943.6" y1="2458.8" x2="955.6" y2="2458.8" stroke="#000" stroke-width="3.3" stroke-linecap="butt"/>
<line x1="943.6" y1="2475.0" x2="955.6" y2="2475.0" stroke="#000" stroke-width="3.3" stroke-linecap="butt"/>
<line x1="1006.3" y1="1898.7" x2="1006.3" y2="2064.0" stroke="#000" stroke-width="3.3" stroke-linecap="butt"/>
<line x1="1000.3" y1="1898.7" x2="1012.3" y2="1898.7" stroke="#000" stroke-width="3.3" stroke-linecap="butt"/>
<line x1="1000.3" y1="2064.0" x2="1012.3" y2="2064.0" stroke="#000" stroke-width="3.3" stroke-linecap="butt"/>
<line x1="1040.9" y1="2205.8" x2="1040.9" y2="2300.0" stroke="#000" stroke-width="3.3" stroke-linecap="butt"/>
<line x1="1034.9" y1="2205.8" x2="1046.9" y2="2205.8" stroke="#000" stroke-width="3.3" stroke-linecap="butt"/>
<line x1="1034.9" y1="2300.0" x2="1046.9" y2="2300.0" stroke="#000" stroke-width="3.3" stroke-linecap="butt"/>
<line x1="1097.6" y1="1760.0" x2="1097.6" y2="1930.4" stroke="#000" stroke-width="3.3" stroke-linecap="butt"/>
<line x1="1091.6" y1="1760.0" x2="1103.6" y2="1760.0" stroke="#000" stroke-width="3.3" stroke-linecap="butt"/>
<line x1="1091.6" y1="1930.4" x2="1103.6" y2="1930.4" stroke="#000" stroke-width="3.3" stroke-linecap="butt"/>
<line x1="1132.2" y1="2044.8" x2="1132.2" y2="2143.0" stroke="#000" stroke-width="3.3" stroke-linecap="butt"/>
<line x1="1126.2" y1="2044.8" x2="1138.2" y2="2044.8" stroke="#000" stroke-width="3.3" stroke-linecap="butt"/>
<line x1="1126.2" y1="2143.0" x2="1138.2" y2="2143.0" stroke="#000" stroke-width="3.3" stroke-linecap="butt"/>
<line x1="1188.9" y1="1971.0" x2="1188.9" y2="2109.6" stroke="#000" stroke-width="3.3" stroke-linecap="butt"/>
<line x1="1182.9" y1="1971.0" x2="1194.9" y2="1971.0" stroke="#000" stroke-width="3.3" stroke-linecap="butt"/>
<line x1="1182.9" y1="2109.6" x2="1194.9" y2="2109.6" stroke="#000" stroke-width="3.3" stroke-linecap="butt"/>
<line x1="1223.5" y1="2176.5" x2="1223.5" y2="2254.0" stroke="#000" stroke-width="3.3" stroke-linecap="butt"/>
<line x1="1217.5" y1="2176.5" x2="1229.5" y2="2176.5" stroke="#000" stroke-width="3.3" stroke-linecap="butt"/>
<line x1="1217.5" y1="2254.0" x2="1229.5" y2="2254.0" stroke="#000" stroke-width="3.3" stroke-linecap="butt"/>
<line x1="1280.2" y1="2361.0" x2="1280.2" y2="2409.5" stroke="#000" stroke-width="3.3" stroke-linecap="butt"/>
<line x1="1274.2" y1="2361.0" x2="1286.2" y2="2361.0" stroke="#000" stroke-width="3.3" stroke-linecap="butt"/>
<line x1="1274.2" y1="2409.5" x2="1286.2" y2="2409.5" stroke="#000" stroke-width="3.3" stroke-linecap="butt"/>
<line x1="1314.8" y1="2421.3" x2="1314.8" y2="2450.0" stroke="#000" stroke-width="3.3" stroke-linecap="butt"/>
<line x1="1308.8" y1="2421.3" x2="1320.8" y2="2421.3" stroke="#000" stroke-width="3.3" stroke-linecap="butt"/>
<line x1="1308.8" y1="2450.0" x2="1320.8" y2="2450.0" stroke="#000" stroke-width="3.3" stroke-linecap="butt"/>
<line x1="1371.5" y1="2178.1" x2="1371.5" y2="2305.0" stroke="#000" stroke-width="3.3" stroke-linecap="butt"/>
<line x1="1365.5" y1="2178.1" x2="1377.5" y2="2178.1" stroke="#000" stroke-width="3.3" stroke-linecap="butt"/>
<line x1="1365.5" y1="2305.0" x2="1377.5" y2="2305.0" stroke="#000" stroke-width="3.3" stroke-linecap="butt"/>
<line x1="1406.1" y1="2330.0" x2="1406.1" y2="2388.0" stroke="#000" stroke-width="3.3" stroke-linecap="butt"/>
<line x1="1400.1" y1="2330.0" x2="1412.1" y2="2330.0" stroke="#000" stroke-width="3.3" stroke-linecap="butt"/>
<line x1="1400.1" y1="2388.0" x2="1412.1" y2="2388.0" stroke="#000" stroke-width="3.3" stroke-linecap="butt"/>
<line x1="1462.8" y1="2150.0" x2="1462.8" y2="2262.0" stroke="#000" stroke-width="3.3" stroke-linecap="butt"/>
<line x1="1456.8" y1="2150.0" x2="1468.8" y2="2150.0" stroke="#000" stroke-width="3.3" stroke-linecap="butt"/>
<line x1="1456.8" y1="2262.0" x2="1468.8" y2="2262.0" stroke="#000" stroke-width="3.3" stroke-linecap="butt"/>
<line x1="1497.4" y1="2318.4" x2="1497.4" y2="2358.1" stroke="#000" stroke-width="3.3" stroke-linecap="butt"/>
<line x1="1491.4" y1="2318.4" x2="1503.4" y2="2318.4" stroke="#000" stroke-width="3.3" stroke-linecap="butt"/>
<line x1="1491.4" y1="2358.1" x2="1503.4" y2="2358.1" stroke="#000" stroke-width="3.3" stroke-linecap="butt"/>
<line x1="1554.1" y1="2205.4" x2="1554.1" y2="2280.7" stroke="#000" stroke-width="3.3" stroke-linecap="butt"/>
<line x1="1548.1" y1="2205.4" x2="1560.1" y2="2205.4" stroke="#000" stroke-width="3.3" stroke-linecap="butt"/>
<line x1="1548.1" y1="2280.7" x2="1560.1" y2="2280.7" stroke="#000" stroke-width="3.3" stroke-linecap="butt"/>
<line x1="1588.7" y1="2305.8" x2="1588.7" y2="2366.0" stroke="#000" stroke-width="3.3" stroke-linecap="butt"/>
<line x1="1582.7" y1="2305.8" x2="1594.7" y2="2305.8" stroke="#000" stroke-width="3.3" stroke-linecap="butt"/>
<line x1="1582.7" y1="2366.0" x2="1594.7" y2="2366.0" stroke="#000" stroke-width="3.3" stroke-linecap="butt"/>
<line x1="1645.4" y1="2344.7" x2="1645.4" y2="2389.0" stroke="#000" stroke-width="3.3" stroke-linecap="butt"/>
<line x1="1639.4" y1="2344.7" x2="1651.4" y2="2344.7" stroke="#000" stroke-width="3.3" stroke-linecap="butt"/>
<line x1="1639.4" y1="2389.0" x2="1651.4" y2="2389.0" stroke="#000" stroke-width="3.3" stroke-linecap="butt"/>
<line x1="1680.0" y1="2400.0" x2="1680.0" y2="2428.0" stroke="#000" stroke-width="3.3" stroke-linecap="butt"/>
<line x1="1674.0" y1="2400.0" x2="1686.0" y2="2400.0" stroke="#000" stroke-width="3.3" stroke-linecap="butt"/>
<line x1="1674.0" y1="2428.0" x2="1686.0" y2="2428.0" stroke="#000" stroke-width="3.3" stroke-linecap="butt"/>
<line x1="1828.0" y1="2354.9" x2="1828.0" y2="2389.0" stroke="#000" stroke-width="3.3" stroke-linecap="butt"/>
<line x1="1822.0" y1="2354.9" x2="1834.0" y2="2354.9" stroke="#000" stroke-width="3.3" stroke-linecap="butt"/>
<line x1="1822.0" y1="2389.0" x2="1834.0" y2="2389.0" stroke="#000" stroke-width="3.3" stroke-linecap="butt"/>
<line x1="1862.6" y1="2402.0" x2="1862.6" y2="2430.0" stroke="#000" stroke-width="3.3" stroke-linecap="butt"/>
<line x1="1856.6" y1="2402.0" x2="1868.6" y2="2402.0" stroke="#000" stroke-width="3.3" stroke-linecap="butt"/>
<line x1="1856.6" y1="2430.0" x2="1868.6" y2="2430.0" stroke="#000" stroke-width="3.3" stroke-linecap="butt"/>
<circle cx="362.0" cy="2475.0" r="6.5" fill="#000"/>
<circle cx="371.0" cy="2477.0" r="6.5" fill="#000"/>
<circle cx="366.0" cy="2484.0" r="6.5" fill="#000"/>
<circle cx="370.0" cy="2490.0" r="6" fill="#000"/>
<circle cx="362.0" cy="2487.0" r="5.5" fill="#000"/>
<circle cx="363.0" cy="2434.0" r="6" fill="#000"/>
<circle cx="371.0" cy="2436.0" r="6" fill="#000"/>
<circle cx="366.8" cy="2377.0" r="5.95" fill="none" stroke="#000" stroke-width="4.0"/>
<circle cx="368.2" cy="2397.0" r="5.95" fill="none" stroke="#000" stroke-width="4.0"/>
<circle cx="365.3" cy="2408.0" r="5.95" fill="none" stroke="#000" stroke-width="4.0"/>
<circle cx="366.8" cy="2437.0" r="5.95" fill="none" stroke="#000" stroke-width="4.0"/>
<circle cx="363.0" cy="2448.0" r="5.95" fill="none" stroke="#000" stroke-width="4.0"/>
<circle cx="371.0" cy="2449.0" r="5.95" fill="none" stroke="#000" stroke-width="4.0"/>
<circle cx="365.3" cy="2476.0" r="5.95" fill="none" stroke="#000" stroke-width="4.0"/>
<circle cx="369.7" cy="2488.0" r="5.95" fill="none" stroke="#000" stroke-width="4.0"/>
<circle cx="397.0" cy="2468.0" r="6.5" fill="#000"/>
<circle cx="405.0" cy="2470.0" r="6.5" fill="#000"/>
<circle cx="400.0" cy="2478.0" r="6.5" fill="#000"/>
<circle cx="396.0" cy="2484.0" r="5.5" fill="#000"/>
<circle cx="406.0" cy="2484.0" r="5.5" fill="#000"/>
<circle cx="401.0" cy="2490.0" r="5" fill="#000"/>
<circle cx="402.1" cy="2433.6" r="6.8" fill="#000"/>
<circle cx="403.0" cy="2440.4" r="6.8" fill="#000"/>
<circle cx="399.2" cy="2446.2" r="6.8" fill="#000"/>
<circle cx="397.8" cy="2453.0" r="6.8" fill="#000"/>
<circle cx="401.0" cy="2466.0" r="6.8" fill="#000"/>
<circle cx="398.0" cy="2474.0" r="6.8" fill="#000"/>
<circle cx="404.0" cy="2480.0" r="6.8" fill="#000"/>
<circle cx="401.0" cy="2486.0" r="6.8" fill="#000"/>
<circle cx="452.0" cy="2478.0" r="6" fill="#000"/>
<circle cx="461.0" cy="2480.0" r="6" fill="#000"/>
<circle cx="456.0" cy="2488.0" r="6.5" fill="#000"/>
<circle cx="463.0" cy="2490.0" r="5.5" fill="#000"/>
<circle cx="458.3" cy="2311.0" r="5.95" fill="none" stroke="#000" stroke-width="4.0"/>
<circle cx="458.6" cy="2352.6" r="5.95" fill="none" stroke="#000" stroke-width="4.0"/>
<circle cx="460.7" cy="2398.7" r="5.95" fill="none" stroke="#000" stroke-width="4.0"/>
<circle cx="452.5" cy="2408.4" r="5.95" fill="none" stroke="#000" stroke-width="4.0"/>
<circle cx="457.3" cy="2476.2" r="5.95" fill="none" stroke="#000" stroke-width="4.0"/>
<circle cx="460.7" cy="2489.8" r="5.95" fill="none" stroke="#000" stroke-width="4.0"/>
<circle cx="462.0" cy="2488.0" r="5.95" fill="none" stroke="#000" stroke-width="4.0"/>
<circle cx="488.0" cy="2466.0" r="6" fill="#000"/>
<circle cx="497.0" cy="2468.0" r="6" fill="#000"/>
<circle cx="492.0" cy="2476.0" r="6.5" fill="#000"/>
<circle cx="487.0" cy="2484.0" r="5.5" fill="#000"/>
<circle cx="498.0" cy="2484.0" r="5.5" fill="#000"/>
<circle cx="492.0" cy="2489.0" r="5" fill="#000"/>
<circle cx="488.0" cy="2421.0" r="6.8" fill="#000"/>
<circle cx="496.0" cy="2428.0" r="6.8" fill="#000"/>
<circle cx="492.7" cy="2450.6" r="6.8" fill="#000"/>
<circle cx="490.0" cy="2466.0" r="6.8" fill="#000"/>
<circle cx="495.0" cy="2474.0" r="6.8" fill="#000"/>
<circle cx="491.0" cy="2482.0" r="6.8" fill="#000"/>
<circle cx="494.0" cy="2487.0" r="6.8" fill="#000"/>
<circle cx="550.1" cy="2262.8" r="5.95" fill="none" stroke="#000" stroke-width="4.0"/>
<circle cx="550.1" cy="2282.9" r="5.95" fill="none" stroke="#000" stroke-width="4.0"/>
<circle cx="550.6" cy="2302.4" r="5.95" fill="none" stroke="#000" stroke-width="4.0"/>
<circle cx="548.4" cy="2309.0" r="5.95" fill="none" stroke="#000" stroke-width="4.0"/>
<circle cx="550.0" cy="2352.0" r="5.95" fill="none" stroke="#000" stroke-width="4.0"/>
<circle cx="547.3" cy="2444.0" r="5.95" fill="none" stroke="#000" stroke-width="4.0"/>
<circle cx="551.7" cy="2456.8" r="5.95" fill="none" stroke="#000" stroke-width="4.0"/>
<circle cx="583.5" cy="2354.8" r="6.8" fill="#000"/>
<circle cx="583.5" cy="2384.9" r="6.8" fill="#000"/>
<circle cx="583.5" cy="2407.2" r="6.8" fill="#000"/>
<circle cx="578.5" cy="2438.4" r="6.8" fill="#000"/>
<circle cx="587.4" cy="2441.7" r="6.8" fill="#000"/>
<circle cx="586.3" cy="2461.8" r="6.8" fill="#000"/>
<circle cx="583.5" cy="2490.7" r="6.8" fill="#000"/>
<circle cx="636.0" cy="2470.0" r="6" fill="#000"/>
<circle cx="646.0" cy="2470.0" r="6" fill="#000"/>
<circle cx="641.0" cy="2478.0" r="6.5" fill="#000"/>
<circle cx="636.0" cy="2485.0" r="5" fill="#000"/>
<circle cx="646.0" cy="2485.0" r="5" fill="#000"/>
<circle cx="643.1" cy="2446.2" r="5.95" fill="none" stroke="#000" stroke-width="4.0"/>
<circle cx="636.5" cy="2455.0" r="5.95" fill="none" stroke="#000" stroke-width="4.0"/>
<circle cx="641.0" cy="2465.0" r="5.95" fill="none" stroke="#000" stroke-width="4.0"/>
<circle cx="645.0" cy="2472.0" r="5.95" fill="none" stroke="#000" stroke-width="4.0"/>
<circle cx="639.0" cy="2478.0" r="5.95" fill="none" stroke="#000" stroke-width="4.0"/>
<circle cx="643.0" cy="2484.0" r="5.95" fill="none" stroke="#000" stroke-width="4.0"/>
<circle cx="675.0" cy="2468.0" r="7" fill="#000"/>
<circle cx="669.0" cy="2476.0" r="6" fill="#000"/>
<circle cx="681.0" cy="2476.0" r="6" fill="#000"/>
<circle cx="675.0" cy="2483.0" r="6" fill="#000"/>
<circle cx="675.5" cy="2467.0" r="6.8" fill="#000"/>
<circle cx="671.0" cy="2475.0" r="6.8" fill="#000"/>
<circle cx="680.0" cy="2478.0" r="6.8" fill="#000"/>
<circle cx="675.0" cy="2483.0" r="6.8" fill="#000"/>
<circle cx="672.0" cy="2486.0" r="6.8" fill="#000"/>
<circle cx="679.0" cy="2487.0" r="6.8" fill="#000"/>
<circle cx="731.9" cy="1909.7" r="5.95" fill="none" stroke="#000" stroke-width="4.0"/>
<circle cx="731.9" cy="1994.0" r="5.95" fill="none" stroke="#000" stroke-width="4.0"/>
<circle cx="731.9" cy="2059.6" r="5.95" fill="none" stroke="#000" stroke-width="4.0"/>
<circle cx="731.9" cy="2094.2" r="5.95" fill="none" stroke="#000" stroke-width="4.0"/>
<circle cx="731.9" cy="2155.6" r="5.95" fill="none" stroke="#000" stroke-width="4.0"/>
<circle cx="731.8" cy="2400.3" r="5.95" fill="none" stroke="#000" stroke-width="4.0"/>
<circle cx="731.8" cy="2437.4" r="5.95" fill="none" stroke="#000" stroke-width="4.0"/>
<circle cx="763.5" cy="2184.3" r="6.8" fill="#000"/>
<circle cx="769.2" cy="2186.4" r="6.8" fill="#000"/>
<circle cx="763.5" cy="2202.8" r="6.8" fill="#000"/>
<circle cx="766.3" cy="2265.6" r="6.8" fill="#000"/>
<circle cx="762.0" cy="2365.4" r="6.8" fill="#000"/>
<circle cx="769.9" cy="2371.8" r="6.8" fill="#000"/>
<circle cx="761.0" cy="2419.6" r="6.8" fill="#000"/>
<circle cx="771.0" cy="2419.6" r="6.8" fill="#000"/>
<circle cx="820.0" cy="2128.7" r="5.95" fill="none" stroke="#000" stroke-width="4.0"/>
<circle cx="828.3" cy="2130.0" r="5.95" fill="none" stroke="#000" stroke-width="4.0"/>
<circle cx="823.5" cy="2169.5" r="5.95" fill="none" stroke="#000" stroke-width="4.0"/>
<circle cx="820.5" cy="2210.7" r="5.95" fill="none" stroke="#000" stroke-width="4.0"/>
<circle cx="826.9" cy="2224.2" r="5.95" fill="none" stroke="#000" stroke-width="4.0"/>
<circle cx="823.4" cy="2421.7" r="5.95" fill="none" stroke="#000" stroke-width="4.0"/>
<circle cx="819.8" cy="2441.0" r="5.95" fill="none" stroke="#000" stroke-width="4.0"/>
<circle cx="826.2" cy="2453.1" r="5.95" fill="none" stroke="#000" stroke-width="4.0"/>
<circle cx="857.6" cy="2257.7" r="6.8" fill="#000"/>
<circle cx="857.6" cy="2287.7" r="6.8" fill="#000"/>
<circle cx="859.7" cy="2352.5" r="6.8" fill="#000"/>
<circle cx="854.0" cy="2365.4" r="6.8" fill="#000"/>
<circle cx="857.6" cy="2398.2" r="6.8" fill="#000"/>
<circle cx="857.6" cy="2419.6" r="6.8" fill="#000"/>
<circle cx="856.0" cy="2441.0" r="6.8" fill="#000"/>
<circle cx="860.0" cy="2446.7" r="6.8" fill="#000"/>
<circle cx="914.0" cy="2443.0" r="7" fill="#000"/>
<circle cx="910.0" cy="2485.0" r="6" fill="#000"/>
<circle cx="919.0" cy="2487.0" r="6" fill="#000"/>
<circle cx="916.3" cy="2409.9" r="5.95" fill="none" stroke="#000" stroke-width="4.0"/>
<circle cx="911.9" cy="2426.3" r="5.95" fill="none" stroke="#000" stroke-width="4.0"/>
<circle cx="915.8" cy="2442.3" r="5.95" fill="none" stroke="#000" stroke-width="4.0"/>
<circle cx="916.3" cy="2458.8" r="5.95" fill="none" stroke="#000" stroke-width="4.0"/>
<circle cx="914.9" cy="2479.1" r="5.95" fill="none" stroke="#000" stroke-width="4.0"/>
<circle cx="912.0" cy="2470.0" r="5.95" fill="none" stroke="#000" stroke-width="4.0"/>
<circle cx="918.0" cy="2487.0" r="5.95" fill="none" stroke="#000" stroke-width="4.0"/>
<circle cx="944.0" cy="2472.0" r="6" fill="#000"/>
<circle cx="954.0" cy="2473.0" r="6" fill="#000"/>
<circle cx="949.0" cy="2481.0" r="6.5" fill="#000"/>
<circle cx="944.0" cy="2487.0" r="5" fill="#000"/>
<circle cx="954.0" cy="2487.0" r="5" fill="#000"/>
<circle cx="948.8" cy="2438.4" r="6.8" fill="#000"/>
<circle cx="948.8" cy="2448.1" r="6.8" fill="#000"/>
<circle cx="946.0" cy="2470.0" r="6.8" fill="#000"/>
<circle cx="952.0" cy="2476.0" r="6.8" fill="#000"/>
<circle cx="948.0" cy="2484.0" r="6.8" fill="#000"/>
<circle cx="945.0" cy="2488.0" r="6.8" fill="#000"/>
<circle cx="1006.2" cy="1702.7" r="5.95" fill="none" stroke="#000" stroke-width="4.0"/>
<circle cx="1006.2" cy="1787.0" r="5.95" fill="none" stroke="#000" stroke-width="4.0"/>
<circle cx="1006.2" cy="1827.1" r="5.95" fill="none" stroke="#000" stroke-width="4.0"/>
<circle cx="1006.2" cy="1917.4" r="5.95" fill="none" stroke="#000" stroke-width="4.0"/>
<circle cx="1006.2" cy="1944.2" r="5.95" fill="none" stroke="#000" stroke-width="4.0"/>
<circle cx="1006.2" cy="2035.9" r="5.95" fill="none" stroke="#000" stroke-width="4.0"/>
<circle cx="1006.4" cy="2287.5" r="5.95" fill="none" stroke="#000" stroke-width="4.0"/>
<circle cx="1006.4" cy="2347.8" r="5.95" fill="none" stroke="#000" stroke-width="4.0"/>
<circle cx="1040.9" cy="2094.7" r="6.8" fill="#000"/>
<circle cx="1043.6" cy="2152.9" r="6.8" fill="#000"/>
<circle cx="1038.9" cy="2167.6" r="6.8" fill="#000"/>
<circle cx="1039.4" cy="2280.6" r="6.8" fill="#000"/>
<circle cx="1042.9" cy="2292.2" r="6.8" fill="#000"/>
<circle cx="1040.6" cy="2374.5" r="6.8" fill="#000"/>
<circle cx="1040.6" cy="2489.3" r="6.8" fill="#000"/>
<circle cx="1097.5" cy="1538.7" r="5.95" fill="none" stroke="#000" stroke-width="4.0"/>
<circle cx="1097.5" cy="1647.1" r="5.95" fill="none" stroke="#000" stroke-width="4.0"/>
<circle cx="1097.5" cy="1717.3" r="5.95" fill="none" stroke="#000" stroke-width="4.0"/>
<circle cx="1094.1" cy="1746.1" r="5.95" fill="none" stroke="#000" stroke-width="4.0"/>
<circle cx="1102.8" cy="1748.8" r="5.95" fill="none" stroke="#000" stroke-width="4.0"/>
<circle cx="1097.5" cy="2032.7" r="5.95" fill="none" stroke="#000" stroke-width="4.0"/>
<circle cx="1097.5" cy="2065.5" r="5.95" fill="none" stroke="#000" stroke-width="4.0"/>
<circle cx="1097.5" cy="2252.5" r="5.95" fill="none" stroke="#000" stroke-width="4.0"/>
<circle cx="1131.9" cy="1884.9" r="6.8" fill="#000"/>
<circle cx="1131.9" cy="1979.9" r="6.8" fill="#000"/>
<circle cx="1131.9" cy="2073.5" r="6.8" fill="#000"/>
<circle cx="1131.9" cy="2143.0" r="6.8" fill="#000"/>
<circle cx="1131.9" cy="2311.4" r="6.8" fill="#000"/>
<circle cx="1188.8" cy="1778.1" r="5.95" fill="none" stroke="#000" stroke-width="4.0"/>
<circle cx="1188.8" cy="1827.6" r="5.95" fill="none" stroke="#000" stroke-width="4.0"/>
<circle cx="1188.8" cy="1960.7" r="5.95" fill="none" stroke="#000" stroke-width="4.0"/>
<circle cx="1185.5" cy="1974.7" r="5.95" fill="none" stroke="#000" stroke-width="4.0"/>
<circle cx="1191.5" cy="1989.4" r="5.95" fill="none" stroke="#000" stroke-width="4.0"/>
<circle cx="1188.8" cy="2158.4" r="5.95" fill="none" stroke="#000" stroke-width="4.0"/>
<circle cx="1188.8" cy="2225.3" r="5.95" fill="none" stroke="#000" stroke-width="4.0"/>
<circle cx="1188.4" cy="2380.4" r="5.95" fill="none" stroke="#000" stroke-width="4.0"/>
<circle cx="1222.9" cy="2048.0" r="6.8" fill="#000"/>
<circle cx="1222.9" cy="2120.9" r="6.8" fill="#000"/>
<circle cx="1227.0" cy="2189.8" r="6.8" fill="#000"/>
<circle cx="1219.6" cy="2197.9" r="6.8" fill="#000"/>
<circle cx="1222.9" cy="2231.3" r="6.8" fill="#000"/>
<circle cx="1222.9" cy="2254.0" r="6.8" fill="#000"/>
<circle cx="1222.8" cy="2400.7" r="6.8" fill="#000"/>
<circle cx="1277.2" cy="2286.9" r="5.95" fill="none" stroke="#000" stroke-width="4.0"/>
<circle cx="1283.1" cy="2303.6" r="5.95" fill="none" stroke="#000" stroke-width="4.0"/>
<circle cx="1280.1" cy="2339.9" r="5.95" fill="none" stroke="#000" stroke-width="4.0"/>
<circle cx="1274.2" cy="2390.9" r="5.95" fill="none" stroke="#000" stroke-width="4.0"/>
<circle cx="1285.0" cy="2397.8" r="5.95" fill="none" stroke="#000" stroke-width="4.0"/>
<circle cx="1280.1" cy="2424.3" r="5.95" fill="none" stroke="#000" stroke-width="4.0"/>
<circle cx="1276.0" cy="2468.4" r="5.95" fill="none" stroke="#000" stroke-width="4.0"/>
<circle cx="1284.0" cy="2468.4" r="5.95" fill="none" stroke="#000" stroke-width="4.0"/>
<circle cx="1311.0" cy="2440.0" r="6" fill="#000"/>
<circle cx="1319.0" cy="2445.0" r="6" fill="#000"/>
<circle cx="1315.0" cy="2458.0" r="6" fill="#000"/>
<circle cx="1311.0" cy="2466.0" r="6" fill="#000"/>
<circle cx="1319.0" cy="2470.0" r="6" fill="#000"/>
<circle cx="1315.0" cy="2478.0" r="6" fill="#000"/>
<circle cx="1315.4" cy="2385.0" r="6.8" fill="#000"/>
<circle cx="1318.9" cy="2390.9" r="6.8" fill="#000"/>
<circle cx="1311.0" cy="2399.7" r="6.8" fill="#000"/>
<circle cx="1313.5" cy="2436.0" r="6.8" fill="#000"/>
<circle cx="1316.9" cy="2452.7" r="6.8" fill="#000"/>
<circle cx="1313.0" cy="2472.3" r="6.8" fill="#000"/>
<circle cx="1317.9" cy="2479.2" r="6.8" fill="#000"/>
<circle cx="1371.4" cy="1837.0" r="5.95" fill="none" stroke="#000" stroke-width="4.0"/>
<circle cx="1372.9" cy="2189.3" r="5.95" fill="none" stroke="#000" stroke-width="4.0"/>
<circle cx="1370.1" cy="2206.0" r="5.95" fill="none" stroke="#000" stroke-width="4.0"/>
<circle cx="1368.0" cy="2289.8" r="5.95" fill="none" stroke="#000" stroke-width="4.0"/>
<circle cx="1376.8" cy="2307.5" r="5.95" fill="none" stroke="#000" stroke-width="4.0"/>
<circle cx="1372.0" cy="2300.0" r="5.95" fill="none" stroke="#000" stroke-width="4.0"/>
<circle cx="1371.4" cy="2406.6" r="5.95" fill="none" stroke="#000" stroke-width="4.0"/>
<circle cx="1371.4" cy="2438.0" r="5.95" fill="none" stroke="#000" stroke-width="4.0"/>
<circle cx="1405.7" cy="2294.7" r="6.8" fill="#000"/>
<circle cx="1410.1" cy="2300.6" r="6.8" fill="#000"/>
<circle cx="1405.7" cy="2321.2" r="6.8" fill="#000"/>
<circle cx="1403.8" cy="2339.9" r="6.8" fill="#000"/>
<circle cx="1408.2" cy="2353.6" r="6.8" fill="#000"/>
<circle cx="1405.7" cy="2374.2" r="6.8" fill="#000"/>
<circle cx="1405.7" cy="2419.4" r="6.8" fill="#000"/>
<circle cx="1405.7" cy="2448.8" r="6.8" fill="#000"/>
<circle cx="1462.9" cy="1871.4" r="5.95" fill="none" stroke="#000" stroke-width="4.0"/>
<circle cx="1463.1" cy="2142.3" r="5.95" fill="none" stroke="#000" stroke-width="4.0"/>
<circle cx="1463.1" cy="2185.9" r="5.95" fill="none" stroke="#000" stroke-width="4.0"/>
<circle cx="1457.2" cy="2211.5" r="5.95" fill="none" stroke="#000" stroke-width="4.0"/>
<circle cx="1466.5" cy="2240.9" r="5.95" fill="none" stroke="#000" stroke-width="4.0"/>
<circle cx="1463.1" cy="2252.2" r="5.95" fill="none" stroke="#000" stroke-width="4.0"/>
<circle cx="1462.8" cy="2339.7" r="5.95" fill="none" stroke="#000" stroke-width="4.0"/>
<circle cx="1462.8" cy="2414.8" r="5.95" fill="none" stroke="#000" stroke-width="4.0"/>
<circle cx="1501.0" cy="2280.0" r="6.8" fill="#000"/>
<circle cx="1493.0" cy="2298.0" r="6.8" fill="#000"/>
<circle cx="1497.1" cy="2343.6" r="6.8" fill="#000"/>
<circle cx="1497.1" cy="2367.8" r="6.8" fill="#000"/>
<circle cx="1497.1" cy="2434.6" r="6.8" fill="#000"/>
<circle cx="1553.9" cy="2101.1" r="5.95" fill="none" stroke="#000" stroke-width="4.0"/>
<circle cx="1557.3" cy="2162.4" r="5.95" fill="none" stroke="#000" stroke-width="4.0"/>
<circle cx="1550.4" cy="2171.8" r="5.95" fill="none" stroke="#000" stroke-width="4.0"/>
<circle cx="1553.9" cy="2194.3" r="5.95" fill="none" stroke="#000" stroke-width="4.0"/>
<circle cx="1553.9" cy="2235.1" r="5.95" fill="none" stroke="#000" stroke-width="4.0"/>
<circle cx="1553.8" cy="2355.7" r="5.95" fill="none" stroke="#000" stroke-width="4.0"/>
<circle cx="1553.8" cy="2447.7" r="5.95" fill="none" stroke="#000" stroke-width="4.0"/>
<circle cx="1588.2" cy="2240.9" r="6.8" fill="#000"/>
<circle cx="1588.2" cy="2280.7" r="6.8" fill="#000"/>
<circle cx="1588.7" cy="2305.8" r="6.8" fill="#000"/>
<circle cx="1588.2" cy="2360.0" r="6.8" fill="#000"/>
<circle cx="1590.6" cy="2379.4" r="6.8" fill="#000"/>
<circle cx="1588.2" cy="2455.9" r="6.8" fill="#000"/>
<circle cx="1645.2" cy="2303.6" r="5.95" fill="none" stroke="#000" stroke-width="4.0"/>
<circle cx="1648.6" cy="2314.2" r="5.95" fill="none" stroke="#000" stroke-width="4.0"/>
<circle cx="1644.7" cy="2323.9" r="5.95" fill="none" stroke="#000" stroke-width="4.0"/>
<circle cx="1642.3" cy="2334.6" r="5.95" fill="none" stroke="#000" stroke-width="4.0"/>
<circle cx="1643.7" cy="2396.0" r="5.95" fill="none" stroke="#000" stroke-width="4.0"/>
<circle cx="1646.6" cy="2409.1" r="5.95" fill="none" stroke="#000" stroke-width="4.0"/>
<circle cx="1645.2" cy="2459.5" r="5.95" fill="none" stroke="#000" stroke-width="4.0"/>
<circle cx="1683.0" cy="2391.7" r="6.8" fill="#000"/>
<circle cx="1675.2" cy="2397.5" r="6.8" fill="#000"/>
<circle cx="1680.0" cy="2419.8" r="6.8" fill="#000"/>
<circle cx="1679.6" cy="2466.3" r="6.8" fill="#000"/>
<circle cx="1736.0" cy="2478.0" r="7" fill="#000"/>
<circle cx="1731.0" cy="2487.0" r="7" fill="#000"/>
<circle cx="1742.0" cy="2488.0" r="7" fill="#000"/>
<circle cx="1737.0" cy="2492.0" r="6" fill="#000"/>
<circle cx="1737.0" cy="2481.0" r="5.95" fill="none" stroke="#000" stroke-width="4.0"/>
<circle cx="1733.0" cy="2488.0" r="5.95" fill="none" stroke="#000" stroke-width="4.0"/>
<circle cx="1741.0" cy="2489.0" r="5.95" fill="none" stroke="#000" stroke-width="4.0"/>
<circle cx="1737.0" cy="2492.0" r="5.95" fill="none" stroke="#000" stroke-width="4.0"/>
<circle cx="1771.6" cy="2487.6" r="8.5" fill="#000"/>
<circle cx="1771.6" cy="2487.6" r="6.8" fill="#000"/>
<circle cx="1774.0" cy="2489.0" r="6.8" fill="#000"/>
<circle cx="1827.8" cy="2306.5" r="5.95" fill="none" stroke="#000" stroke-width="4.0"/>
<circle cx="1830.7" cy="2324.9" r="5.95" fill="none" stroke="#000" stroke-width="4.0"/>
<circle cx="1824.9" cy="2341.3" r="5.95" fill="none" stroke="#000" stroke-width="4.0"/>
<circle cx="1823.0" cy="2367.5" r="5.95" fill="none" stroke="#000" stroke-width="4.0"/>
<circle cx="1823.4" cy="2382.0" r="5.95" fill="none" stroke="#000" stroke-width="4.0"/>
<circle cx="1824.9" cy="2395.6" r="5.95" fill="none" stroke="#000" stroke-width="4.0"/>
<circle cx="1830.7" cy="2410.1" r="5.95" fill="none" stroke="#000" stroke-width="4.0"/>
<circle cx="1827.8" cy="2460.5" r="5.95" fill="none" stroke="#000" stroke-width="4.0"/>
<circle cx="1864.1" cy="2388.8" r="6.8" fill="#000"/>
<circle cx="1860.7" cy="2402.3" r="6.8" fill="#000"/>
<circle cx="1861.0" cy="2409.0" r="6.8" fill="#000"/>
<circle cx="1861.0" cy="2435.3" r="6.8" fill="#000"/>
<circle cx="1861.0" cy="2469.2" r="6.8" fill="#000"/>
<line x1="344.0" y1="1457.5" x2="344.0" y2="2492.0" stroke="#000" stroke-width="3.2" stroke-linecap="butt"/>
<line x1="331.0" y1="1459.4" x2="344.0" y2="1459.4" stroke="#000" stroke-width="3.2" stroke-linecap="butt"/>
<line x1="331.0" y1="1665.6" x2="344.0" y2="1665.6" stroke="#000" stroke-width="3.2" stroke-linecap="butt"/>
<line x1="331.0" y1="1871.8" x2="344.0" y2="1871.8" stroke="#000" stroke-width="3.2" stroke-linecap="butt"/>
<line x1="331.0" y1="2078.0" x2="344.0" y2="2078.0" stroke="#000" stroke-width="3.2" stroke-linecap="butt"/>
<line x1="331.0" y1="2284.2" x2="344.0" y2="2284.2" stroke="#000" stroke-width="3.2" stroke-linecap="butt"/>
<line x1="331.0" y1="2490.4" x2="344.0" y2="2490.4" stroke="#000" stroke-width="3.2" stroke-linecap="butt"/>
<line x1="330.0" y1="2490.0" x2="1892.0" y2="2490.0" stroke="#000" stroke-width="3.6" stroke-linecap="butt"/>
<line x1="383.6" y1="2490.0" x2="383.6" y2="2503.5" stroke="#000" stroke-width="3.6" stroke-linecap="butt"/>
<line x1="474.9" y1="2490.0" x2="474.9" y2="2503.5" stroke="#000" stroke-width="3.6" stroke-linecap="butt"/>
<line x1="566.2" y1="2490.0" x2="566.2" y2="2503.5" stroke="#000" stroke-width="3.6" stroke-linecap="butt"/>
<line x1="657.5" y1="2490.0" x2="657.5" y2="2503.5" stroke="#000" stroke-width="3.6" stroke-linecap="butt"/>
<line x1="748.8" y1="2490.0" x2="748.8" y2="2503.5" stroke="#000" stroke-width="3.6" stroke-linecap="butt"/>
<line x1="840.1" y1="2490.0" x2="840.1" y2="2503.5" stroke="#000" stroke-width="3.6" stroke-linecap="butt"/>
<line x1="931.4" y1="2490.0" x2="931.4" y2="2503.5" stroke="#000" stroke-width="3.6" stroke-linecap="butt"/>
<line x1="1022.7" y1="2490.0" x2="1022.7" y2="2503.5" stroke="#000" stroke-width="3.6" stroke-linecap="butt"/>
<line x1="1114.0" y1="2490.0" x2="1114.0" y2="2503.5" stroke="#000" stroke-width="3.6" stroke-linecap="butt"/>
<line x1="1205.3" y1="2490.0" x2="1205.3" y2="2503.5" stroke="#000" stroke-width="3.6" stroke-linecap="butt"/>
<line x1="1296.6" y1="2490.0" x2="1296.6" y2="2503.5" stroke="#000" stroke-width="3.6" stroke-linecap="butt"/>
<line x1="1387.9" y1="2490.0" x2="1387.9" y2="2503.5" stroke="#000" stroke-width="3.6" stroke-linecap="butt"/>
<line x1="1479.2" y1="2490.0" x2="1479.2" y2="2503.5" stroke="#000" stroke-width="3.6" stroke-linecap="butt"/>
<line x1="1570.5" y1="2490.0" x2="1570.5" y2="2503.5" stroke="#000" stroke-width="3.6" stroke-linecap="butt"/>
<line x1="1661.8" y1="2490.0" x2="1661.8" y2="2503.5" stroke="#000" stroke-width="3.6" stroke-linecap="butt"/>
<line x1="1753.1" y1="2490.0" x2="1753.1" y2="2503.5" stroke="#000" stroke-width="3.6" stroke-linecap="butt"/>
<line x1="1844.4" y1="2490.0" x2="1844.4" y2="2503.5" stroke="#000" stroke-width="3.6" stroke-linecap="butt"/>
<text x="151.3" y="1482.2" font-size="55.00" textLength="131.1" lengthAdjust="spacingAndGlyphs" fill="#000" >1×10</text>
<text x="284.7" y="1462.9" font-size="37.67" textLength="42.0" lengthAdjust="spacingAndGlyphs" fill="#000" >11</text>
<text x="151.3" y="1688.4" font-size="55.00" textLength="131.1" lengthAdjust="spacingAndGlyphs" fill="#000" >8×10</text>
<text x="284.8" y="1668.7" font-size="36.18" textLength="41.1" lengthAdjust="spacingAndGlyphs" fill="#000" >10</text>
<text x="151.3" y="1894.6" font-size="55.00" textLength="131.1" lengthAdjust="spacingAndGlyphs" fill="#000" >6×10</text>
<text x="284.8" y="1874.9" font-size="36.18" textLength="41.1" lengthAdjust="spacingAndGlyphs" fill="#000" >10</text>
<text x="151.3" y="2100.8" font-size="55.00" textLength="131.1" lengthAdjust="spacingAndGlyphs" fill="#000" >4×10</text>
<text x="284.8" y="2081.1" font-size="36.18" textLength="41.1" lengthAdjust="spacingAndGlyphs" fill="#000" >10</text>
<text x="151.3" y="2306.9" font-size="55.00" textLength="131.1" lengthAdjust="spacingAndGlyphs" fill="#000" >2×10</text>
<text x="284.8" y="2287.3" font-size="36.18" textLength="41.1" lengthAdjust="spacingAndGlyphs" fill="#000" >10</text>
<text x="290.2" y="2512.2" font-size="54.21" textLength="32.3" lengthAdjust="spacingAndGlyphs" fill="#000" >0</text>
<text transform="translate(401.0,2545.3) rotate(-45)" x="0" y="0" text-anchor="end" font-size="53.25" textLength="107.6" lengthAdjust="spacingAndGlyphs">48:1</text>
<text transform="translate(492.3,2545.3) rotate(-45)" x="0" y="0" text-anchor="end" font-size="53.25" textLength="107.6" lengthAdjust="spacingAndGlyphs">48:2</text>
<text transform="translate(583.6,2545.3) rotate(-45)" x="0" y="0" text-anchor="end" font-size="53.25" textLength="107.6" lengthAdjust="spacingAndGlyphs">50:1</text>
<text transform="translate(674.9,2545.3) rotate(-45)" x="0" y="0" text-anchor="end" font-size="53.25" textLength="107.6" lengthAdjust="spacingAndGlyphs">51:2</text>
<text transform="translate(766.1,2545.3) rotate(-45)" x="0" y="0" text-anchor="end" font-size="53.25" textLength="107.6" lengthAdjust="spacingAndGlyphs">50:2</text>
<text transform="translate(857.5,2545.3) rotate(-45)" x="0" y="0" text-anchor="end" font-size="53.25" textLength="107.6" lengthAdjust="spacingAndGlyphs">50:3</text>
<text transform="translate(948.8,2545.3) rotate(-45)" x="0" y="0" text-anchor="end" font-size="53.25" textLength="107.6" lengthAdjust="spacingAndGlyphs">52:1</text>
<text transform="translate(1040.0,2545.3) rotate(-45)" x="0" y="0" text-anchor="end" font-size="53.25" textLength="107.6" lengthAdjust="spacingAndGlyphs">52:2</text>
<text transform="translate(1131.3,2545.3) rotate(-45)" x="0" y="0" text-anchor="end" font-size="53.25" textLength="107.6" lengthAdjust="spacingAndGlyphs">52:3</text>
<text transform="translate(1222.6,2545.3) rotate(-45)" x="0" y="0" text-anchor="end" font-size="53.25" textLength="107.6" lengthAdjust="spacingAndGlyphs">52:4</text>
<text transform="translate(1313.9,2545.3) rotate(-45)" x="0" y="0" text-anchor="end" font-size="53.25" textLength="107.6" lengthAdjust="spacingAndGlyphs">54:2</text>
<text transform="translate(1405.2,2545.3) rotate(-45)" x="0" y="0" text-anchor="end" font-size="53.25" textLength="107.6" lengthAdjust="spacingAndGlyphs">54:3</text>
<text transform="translate(1496.5,2545.3) rotate(-45)" x="0" y="0" text-anchor="end" font-size="53.25" textLength="107.6" lengthAdjust="spacingAndGlyphs">54:4</text>
<text transform="translate(1587.8,2545.3) rotate(-45)" x="0" y="0" text-anchor="end" font-size="53.25" textLength="107.6" lengthAdjust="spacingAndGlyphs">54:5</text>
<text transform="translate(1679.2,2545.3) rotate(-45)" x="0" y="0" text-anchor="end" font-size="53.25" textLength="107.6" lengthAdjust="spacingAndGlyphs">54:6</text>
<text transform="translate(1770.4,2545.3) rotate(-45)" x="0" y="0" text-anchor="end" font-size="53.25" textLength="107.6" lengthAdjust="spacingAndGlyphs">56:5</text>
<text transform="translate(1861.8,2545.3) rotate(-45)" x="0" y="0" text-anchor="end" font-size="53.25" textLength="107.6" lengthAdjust="spacingAndGlyphs">56:6</text>
<text x="364.4" y="1459.4" font-size="61.05" textLength="273.6" lengthAdjust="spacingAndGlyphs" fill="#000" >Serum TG</text>
<text x="39.5" y="1492.3" font-size="88.90" textLength="61.0" lengthAdjust="spacingAndGlyphs" fill="#000" >B</text>
<text x="-2212.6" y="107.8" font-size="55.06" textLength="195.0" lengthAdjust="spacingAndGlyphs" fill="#000" transform="rotate(-90)">Relative</text>
<text x="-1983.9" y="107.8" font-size="55.06" textLength="280.5" lengthAdjust="spacingAndGlyphs" fill="#000" transform="rotate(-90)">Abundance</text>
<rect x="1637.7" y="1477.7" width="229.6" height="157.9" fill="#fff" stroke="#000" stroke-width="6.5"/>
<circle cx="1675.9" cy="1515.9" r="7.0" fill="none" stroke="#000" stroke-width="3.6"/>
<circle cx="1678.5" cy="1588.8" r="7.2" fill="#000"/>
<text x="1727.2" y="1533.3" font-size="42.86" textLength="135.2" lengthAdjust="spacingAndGlyphs" fill="#000" >Vehicle</text>
<text x="1727.5" y="1605.7" font-size="42.37" textLength="78.8" lengthAdjust="spacingAndGlyphs" fill="#000" >SFN</text>
<text x="1026.2" y="2106.1" font-size="79.46" textLength="31.4" lengthAdjust="spacingAndGlyphs" fill="#ff4242" style="font-family:Liberation Sans;font-weight:700">*</text>
<text x="1118.2" y="1898.9" font-size="81.35" textLength="30.0" lengthAdjust="spacingAndGlyphs" fill="#ff4242" style="font-family:Liberation Sans;font-weight:700">*</text>
<text x="1208.2" y="2064.3" font-size="79.46" textLength="30.0" lengthAdjust="spacingAndGlyphs" fill="#ff4242" style="font-family:Liberation Sans;font-weight:700">*</text>
</svg></body></html>
